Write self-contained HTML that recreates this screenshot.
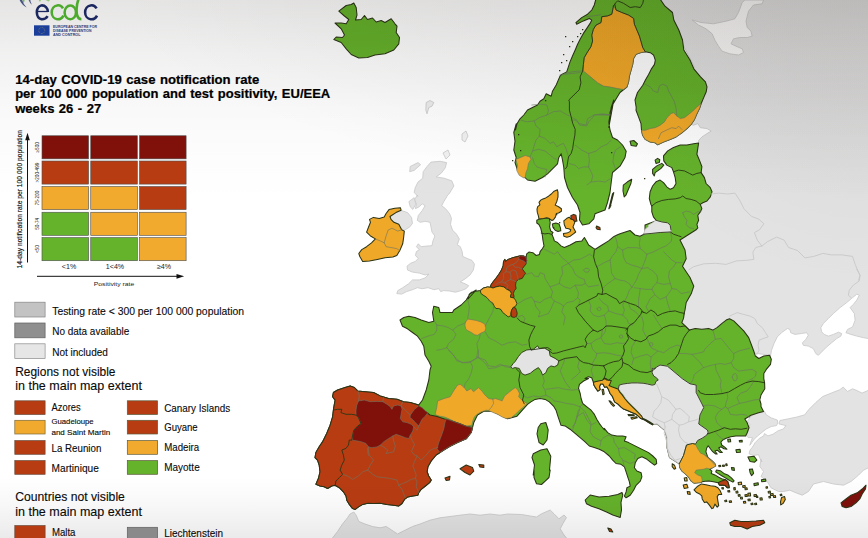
<!DOCTYPE html>
<html><head><meta charset="utf-8"><title>ECDC map</title>
<style>
html,body{margin:0;padding:0;background:#fff;}
body{width:868px;height:538px;overflow:hidden;font-family:"Liberation Sans",sans-serif;}
svg{display:block;}
text{font-family:"Liberation Sans",sans-serif;}
</style></head><body>
<svg width="868" height="538" viewBox="0 0 868 538">
<defs>
<radialGradient id="vtr" cx="868" cy="0" r="290" gradientUnits="userSpaceOnUse">
<stop offset="0" stop-color="#1a0a00" stop-opacity="0.042"/><stop offset="0.3" stop-color="#1a0a00" stop-opacity="0.038"/><stop offset="0.6" stop-color="#1a0a00" stop-opacity="0.022"/><stop offset="0.8" stop-color="#000" stop-opacity="0.008"/><stop offset="1" stop-color="#000" stop-opacity="0"/></radialGradient>
<radialGradient id="vtb" cx="0" cy="0" r="1" gradientUnits="userSpaceOnUse" gradientTransform="translate(868,0) scale(750,200)">
<stop offset="0" stop-color="#140800" stop-opacity="0.05"/><stop offset="0.5" stop-color="#140800" stop-opacity="0.04"/><stop offset="0.8" stop-color="#000" stop-opacity="0.016"/><stop offset="1" stop-color="#000" stop-opacity="0"/></radialGradient>
<linearGradient id="vtop" x1="0" y1="0" x2="0" y2="538" gradientUnits="userSpaceOnUse">
<stop offset="0" stop-color="#100800" stop-opacity="0.105"/><stop offset="0.10" stop-color="#100800" stop-opacity="0.058"/><stop offset="0.20" stop-color="#000" stop-opacity="0.025"/><stop offset="0.30" stop-color="#000" stop-opacity="0.008"/><stop offset="0.38" stop-color="#000" stop-opacity="0"/><stop offset="0.885" stop-color="#000" stop-opacity="0"/><stop offset="0.94" stop-color="#000" stop-opacity="0.03"/><stop offset="1" stop-color="#000" stop-opacity="0.08"/></linearGradient>
</defs>
<rect width="868" height="538" fill="#ffffff"/>
<g>
<polygon points="417.3,195.0 414.4,199.9 416.4,203.8 415.4,208.7 419.3,206.7 422.2,203.8 425.1,205.7 422.2,210.6 418.3,215.5 417.3,220.4 420.3,222.3 425.1,221.3 430.0,222.3 431.0,227.2 432.0,232.1 434.9,236.0 432.9,240.9 432.0,245.7 426.1,246.1 421.2,246.7 418.3,243.8 416.4,246.7 419.3,249.6 416.4,251.6 415.4,255.5 418.3,258.4 415.4,261.4 410.5,263.3 407.0,266.2 407.6,270.1 412.5,272.1 419.3,273.1 425.1,275.0 429.0,274.0 425.1,277.9 419.3,279.9 412.5,279.9 408.5,283.8 402.7,287.7 397.8,290.6 396.8,293.6 401.7,294.1 406.6,291.6 412.5,289.7 417.3,287.7 422.2,288.7 428.1,287.7 433.9,289.7 438.8,288.7 440.7,291.6 443.7,290.6 449.5,291.0 455.4,292.2 461.2,290.6 466.1,288.7 468.7,285.7 465.1,283.8 460.3,281.8 465.1,278.9 470.0,275.0 473.3,270.1 474.5,264.3 472.0,260.4 467.1,258.4 462.8,256.5 462.2,251.6 460.3,246.7 457.3,244.8 459.3,238.9 456.4,234.0 452.5,230.1 450.5,224.3 451.5,218.4 449.5,213.5 445.6,208.7 441.7,205.7 443.7,201.8 446.6,197.0 447.6,195.0 449.2,193.8 453.9,186.0 451.8,180.8 444.0,178.2 436.2,176.9 441.4,173.0 445.3,167.8 446.6,162.6 440.1,161.3 431.0,162.1 427.1,166.5 423.2,171.7 422.7,178.2 418.0,182.1 415.4,187.3 414.1,192.5 418.0,196.4" fill="#e3e3e3" stroke="#c9c8c8" stroke-width="0.8" stroke-linejoin="round"/>
<polygon points="410.2,166.5 418.0,162.6 420.6,164.7 414.1,170.4 409.7,171.7" fill="#e3e3e3" stroke="#c9c8c8" stroke-width="0.8" stroke-linejoin="round"/>
<polygon points="408.9,201.6 414.1,197.7 415.9,204.2 412.8,209.4 410.2,206.8" fill="#e3e3e3" stroke="#c9c8c8" stroke-width="0.8" stroke-linejoin="round"/>
<polygon points="390.0,216.5 395.9,212.6 401.7,210.6 407.6,212.6 411.5,217.4 412.5,223.3 409.5,227.2 404.6,230.1 401.7,229.7 398.8,224.3 393.9,222.3 391.0,219.4" fill="#e3e3e3" stroke="#c9c8c8" stroke-width="0.8" stroke-linejoin="round"/>
<polygon points="655.0,-5.0 880.0,-5.0 880.0,338.0 870.2,338.9 863.5,337.7 856.8,336.1 850.9,334.4 845.9,332.7 847.6,329.4 852.6,326.9 855.1,320.2 854.3,313.5 850.1,307.6 853.4,304.3 856.8,300.1 859.3,295.1 856.8,294.2 852.6,297.6 846.7,302.6 840.1,307.6 833.4,313.5 828.4,318.5 823.3,323.5 820.8,327.7 821.7,331.9 824.2,334.4 828.4,336.1 833.4,334.4 838.4,332.2 841.7,333.5 840.9,336.1 836.7,338.6 831.7,342.7 826.7,346.9 821.7,351.9 818.3,355.3 815.8,353.6 813.3,348.6 808.3,346.1 803.3,345.3 802.4,342.7 805.8,339.4 808.3,335.2 806.6,332.7 801.6,333.5 794.9,334.4 790.7,332.7 789.9,329.4 787.4,328.5 781.5,332.7 777.3,336.9 774.0,343.6 771.5,350.3 770.7,355.3 745.0,352.0 700.0,342.0 672.0,332.0 672.0,240.0 668.0,228.0 698.5,143.8 698.7,140.3 702.0,136.9 707.0,133.6 711.2,131.1 707.0,128.6 700.3,127.7 697.8,123.6 693.6,125.2 691.1,124.4 700.3,105.2 693.6,65.0 670.0,20.0" fill="#e3e3e3" stroke="#c9c8c8" stroke-width="0.8" stroke-linejoin="round"/>
<polygon points="868.0,390.5 862.0,393.1 856.9,390.5 852.6,388.8 847.5,391.4 843.2,387.1 839.8,389.7 831.2,393.1 822.7,396.5 815.8,402.5 809.0,409.3 804.7,414.8 797.0,417.0 788.4,418.8 779.9,420.5 779.0,423.9 785.9,425.6 783.3,429.0 778.2,430.7 773.0,434.2 767.9,435.9 764.5,433.6 763.6,435.9 759.3,438.4 755.1,442.7 752.5,447.0 749.9,450.4 749.1,453.8 753.4,455.5 758.5,454.7 760.2,459.0 761.9,462.0 761.0,459.0 759.8,466.5 763.5,471.5 761.0,476.5 767.2,481.5 771.0,487.8 778.5,491.5 783.5,491.5 789.8,490.2 796.0,492.8 802.2,495.2 808.5,491.5 813.5,484.0 823.5,481.5 833.5,484.0 843.5,485.2 851.0,481.5 858.5,475.2 863.5,470.2 871.0,466.5 880.0,390.0" fill="#e3e3e3" stroke="#c9c8c8" stroke-width="0.8" stroke-linejoin="round"/>
<polygon points="764.5,411.4 766.2,414.8 771.3,417.9 777.3,420.0 777.8,423.0 776.5,425.6 771.3,426.5 766.2,429.0 761.9,432.4 757.6,435.9 754.2,439.3 751.7,442.7 749.9,445.3 750.8,441.9 752.5,437.6 748.2,437.6 746.5,435.9 748.2,429.9 749.9,424.7 747.4,421.3 750.8,416.2 756.8,413.6" fill="#e3e3e3" stroke="#c9c8c8" stroke-width="0.8" stroke-linejoin="round"/>
<polygon points="330.0,544.0 332.5,538.0 337.5,531.5 342.5,524.0 347.5,517.8 350.0,514.0 353.8,512.0 356.2,515.2 358.8,521.5 365.0,524.0 372.5,526.5 380.0,527.8 386.2,526.5 393.8,531.5 397.5,534.0 405.0,530.2 412.5,526.5 420.0,524.0 430.0,520.2 440.0,517.8 450.0,516.5 460.0,515.2 470.0,514.0 480.0,515.2 490.0,514.0 500.0,515.2 507.5,514.0 521.5,514.5 531.5,516.2 536.5,517.0 541.5,513.8 550.2,510.0 554.0,513.8 559.0,518.8 564.0,515.0 566.5,517.5 562.8,523.8 560.2,528.8 564.0,535.0 566.5,538.0 570.0,548.0 300.0,548.0" fill="#e3e3e3" stroke="#c9c8c8" stroke-width="0.8" stroke-linejoin="round"/>
<polygon points="426.2,102.5 430.0,100.5 433.8,102.5 432.0,106.2 428.8,107.5 427.0,113.8 425.8,110.0" fill="#ececec" stroke="#c9c8c8" stroke-width="0.8" stroke-linejoin="round"/>
<polygon points="462.0,134.0 466.0,131.0 468.0,136.0 465.0,142.0 462.0,140.0" fill="#f1f1f1" stroke="#c9c8c8" stroke-width="0.8" stroke-linejoin="round"/>
<polygon points="443.0,153.0 448.0,150.0 450.0,155.0 446.0,159.0" fill="#f1f1f1" stroke="#c9c8c8" stroke-width="0.8" stroke-linejoin="round"/>
<polygon points="692.2,20.0 701.0,22.5 713.5,23.8 726.0,21.2 734.8,18.8 738.5,12.5 742.2,2.5 744.8,0.0 763.5,0.0 762.2,3.8 753.5,5.0 748.5,11.2 746.0,21.2 747.2,27.5 751.0,31.2 752.2,36.2 747.2,37.5 739.8,37.5 733.5,38.8 731.0,43.8 736.0,46.2 742.2,48.8 743.5,52.5 738.5,55.0 729.8,53.8 722.2,51.2 718.5,46.2 714.8,40.0 712.2,33.8 706.0,28.8 698.5,25.0" fill="#fdfcfc" stroke="#c9c8c8" stroke-width="0.8" stroke-linejoin="round"/>
<polygon points="338.8,11.2 346.2,5.5 351.2,4.5 353.8,3.0 356.2,7.5 357.0,15.0 355.5,20.0 361.2,19.5 364.5,15.5 367.5,19.5 372.5,18.0 376.2,22.0 381.2,20.5 385.0,22.5 391.2,18.8 395.0,23.8 397.0,26.2 396.2,32.5 399.5,37.5 398.8,43.8 393.8,50.0 385.0,53.8 375.0,55.0 367.5,57.5 358.8,58.0 351.2,54.5 346.2,48.8 341.2,42.5 333.8,39.5 336.2,37.0 342.5,37.5 344.5,35.0 341.2,28.8 335.0,23.0 341.2,23.0 346.2,23.8 348.8,19.5 343.8,15.5" fill="#65b22b" stroke="#2b3416" stroke-width="1.05" stroke-linejoin="round"/>
<polygon points="596.0,-1.3 594.3,5.0 591.8,10.0 587.6,14.2 581.7,17.6 575.9,22.6 576.7,24.2 583.4,20.9 589.3,18.4 591.8,20.1 590.1,23.4 586.8,28.4 583.4,33.4 580.1,39.3 577.6,44.3 575.1,50.2 572.5,56.0 570.0,61.9 568.4,66.9 566.7,71.9 561.7,74.4 560.0,76.1 556.2,85.0 552.5,91.2 551.2,96.2 546.2,93.8 543.8,98.8 540.0,101.2 537.5,105.0 532.5,107.5 527.5,110.0 523.8,115.0 520.0,118.8 517.0,123.8 515.5,130.0 516.2,123.8 513.8,132.5 515.0,141.2 513.8,150.0 516.2,157.5 515.0,162.5 517.5,170.0 521.2,175.0 525.0,177.5 527.5,180.0 535.0,181.2 542.5,177.5 547.5,173.8 552.5,168.8 557.5,163.8 558.8,157.5 561.2,153.8 562.5,160.0 563.8,167.5 564.5,177.5 567.5,187.5 572.5,197.5 577.5,205.0 580.0,212.5 579.5,220.0 582.5,225.0 588.8,223.8 593.8,218.8 595.0,213.8 605.0,210.0 607.5,202.5 610.0,192.5 611.2,182.5 612.5,172.5 620.0,166.2 625.0,157.5 626.2,151.2 622.5,145.0 617.5,140.0 612.5,137.5 610.0,130.0 608.8,122.5 610.0,115.0 611.2,107.5 613.8,100.0 608.8,127.5 610.0,120.0 610.0,112.5 612.5,105.0 616.2,98.8 620.0,92.5 626.9,87.0 628.6,81.9 629.4,76.1 631.1,70.2 632.7,64.4 633.6,58.5 636.1,54.3 640.3,52.7 645.3,51.8 650.3,52.7 653.6,55.2 655.3,60.2 654.5,64.4 651.1,69.4 648.6,74.4 645.3,80.3 642.8,85.3 637.5,92.5 635.0,100.0 636.2,107.5 636.0,110.2 638.5,116.9 641.0,123.6 641.5,130.3 642.6,135.3 645.2,139.4 650.2,142.0 655.2,142.8 657.7,144.8 663.5,142.0 670.2,139.4 676.1,136.9 681.9,132.8 687.0,128.6 691.1,124.4 694.5,119.4 697.0,113.5 699.5,108.5 701.2,103.5 703.7,97.6 706.2,91.8 707.0,86.8 705.4,81.8 700.3,76.7 693.8,68.8 690.0,60.0 683.8,50.0 682.5,40.0 678.8,30.0 673.8,20.0 672.5,12.5 665.0,6.2 660.0,-1.0" fill="#65b22b" stroke="#2b3416" stroke-width="1.05" stroke-linejoin="round"/>
<polygon points="552.4,224.1 555.8,223.0 559.1,224.1 560.5,228.1 560.8,230.8 558.0,231.4 555.2,230.3 553.0,227.5" fill="#65b22b" stroke="#2b3416" stroke-width="1.05" stroke-linejoin="round"/>
<polygon points="613.8,192.5 610.0,207.5 608.8,208.8 612.5,193.8" fill="#65b22b" stroke="#2b3416" stroke-width="1.05" stroke-linejoin="round"/>
<polygon points="623.3,185.2 627.5,181.8 631.7,179.3 630.9,183.5 628.4,189.3 625.9,195.2 624.2,196.9 623.0,191.0" fill="#65b22b" stroke="#2b3416" stroke-width="1.05" stroke-linejoin="round"/>
<polygon points="630.0,141.2 633.8,140.5 637.5,143.8 636.2,146.2 631.2,145.5" fill="#65b22b" stroke="#2b3416" stroke-width="1.05" stroke-linejoin="round"/>
<polygon points="652.6,169.3 656.8,165.9 661.8,163.4 663.8,165.1 661.0,168.4 657.6,170.9 655.1,172.6 654.3,176.0 652.6,173.4" fill="#65b22b" stroke="#2b3416" stroke-width="1.05" stroke-linejoin="round"/>
<polygon points="655.1,160.1 657.6,158.4 659.8,159.7 659.3,162.6 656.0,163.4" fill="#65b22b" stroke="#2b3416" stroke-width="1.05" stroke-linejoin="round"/>
<polygon points="468.0,299.0 469.1,294.5 471.4,292.3 475.8,291.2 480.3,290.4 483.6,288.0 487.6,286.9 490.4,287.3 490.9,285.1 493.1,281.8 495.9,278.4 498.7,274.5 501.5,270.0 503.2,265.6 503.5,261.6 504.9,259.4 505.4,261.6 508.2,259.4 512.7,257.7 517.2,256.6 520.5,255.8 523.9,256.1 526.1,257.2 526.7,253.8 528.9,252.1 532.8,252.7 536.2,255.5 539.5,254.4 540.1,251.6 542.3,248.8 544.0,246.0 542.9,240.0 542.4,235.9 541.8,232.5 540.7,228.1 539.0,224.7 536.8,223.0 536.8,220.2 539.0,219.1 543.5,218.6 546.8,217.8 549.3,218.6 550.2,222.5 549.6,226.9 550.7,230.8 553.0,232.5 551.9,234.2 553.5,238.1 554.1,240.0 554.3,240.9 557.6,242.5 561.0,245.9 564.3,247.5 570.2,245.0 576.0,241.7 581.9,240.9 584.4,237.5 586.9,241.7 588.6,245.0 593.6,248.4 595.3,249.2 602.0,245.0 608.6,240.9 613.7,236.7 617.0,235.0 620.0,233.8 630.0,230.5 635.0,235.0 640.0,236.2 645.0,233.8 645.0,225.0 655.0,221.2 656.0,220.3 653.4,216.9 651.8,211.9 651.8,206.1 650.9,204.4 649.3,198.5 650.1,191.8 652.6,186.0 656.0,181.8 660.1,180.1 663.5,182.6 666.8,186.8 670.2,189.3 673.5,187.7 676.0,183.5 675.2,177.6 673.5,171.8 671.8,167.6 666.8,165.1 663.8,160.9 663.5,155.9 667.7,150.9 673.5,147.5 680.2,145.0 686.9,145.0 693.6,143.7 698.6,143.0 697.8,148.4 696.9,154.2 699.4,160.1 701.9,166.8 701.1,172.6 704.4,177.6 706.1,183.5 710.3,187.7 712.0,191.8 710.3,196.9 707.0,201.0 702.8,202.7 700.3,204.4 701.9,208.6 700.3,211.9 697.8,215.3 698.6,220.3 696.9,224.4 697.8,227.8 696.1,229.8 680.0,240.0 685.0,250.0 686.2,258.8 682.5,266.2 690.0,277.5 693.8,286.2 691.2,293.8 686.2,302.5 685.0,310.0 683.8,315.0 684.3,313.4 683.5,318.4 681.8,322.6 685.2,325.9 689.4,330.1 695.2,328.4 701.9,329.2 708.6,328.4 712.8,330.1 717.0,327.6 722.0,323.4 726.2,320.1 729.5,318.7 733.7,320.9 738.7,325.9 743.7,330.9 748.7,337.6 751.2,344.3 753.7,351.0 755.4,356.0 758.8,358.5 763.8,356.0 769.6,355.2 771.3,359.3 770.5,364.4 766.3,369.4 763.8,373.6 763.8,378.6 764.6,382.8 764.8,388.8 761.0,395.0 759.8,400.0 761.0,404.0 761.0,406.5 763.5,411.5 758.5,412.8 751.0,415.2 744.8,419.0 747.2,422.8 749.0,427.8 747.2,432.8 745.6,436.0 741.9,436.0 735.9,436.0 730.7,436.7 726.2,438.2 723.2,439.7 720.9,442.0 721.7,445.0 724.7,447.2 726.9,449.2 723.9,448.7 720.9,446.8 718.7,448.0 720.9,451.0 722.4,452.5 720.2,452.5 717.2,450.2 714.9,451.0 717.2,454.0 715.7,454.0 712.7,451.7 710.4,448.7 708.2,445.7 706.7,448.0 705.9,451.7 707.4,456.2 708.2,457.7 711.9,460.7 714.9,463.7 715.7,465.9 713.4,467.4 709.7,469.2 711.9,471.2 711.2,473.4 714.9,474.9 718.7,477.2 721.7,478.7 725.4,479.7 727.7,481.7 728.7,484.7 729.2,487.7 727.2,487.7 725.1,485.4 722.4,485.1 719.4,485.1 718.2,482.7 713.4,481.7 708.9,480.9 705.2,481.2 702.2,481.7 701.5,482.4 698.5,482.7 694.0,483.2 691.0,480.9 688.7,477.2 685.7,474.2 682.0,471.2 679.7,467.4 679.3,463.7 669.5,457.5 667.0,447.5 667.0,437.5 664.5,430.0 657.0,423.8 653.2,424.2 652.6,424.8 648.7,422.5 644.8,420.1 640.9,418.6 638.6,416.4 635.8,414.1 631.9,412.5 628.0,410.8 623.6,409.1 620.8,406.9 618.0,404.1 614.6,401.9 613.5,399.1 612.4,396.3 610.1,393.5 608.5,389.6 606.8,386.8 604.6,387.3 602.9,384.0 600.6,384.0 599.5,386.8 600.1,389.6 597.9,391.2 595.6,387.9 593.9,385.1 593.4,382.3 591.7,377.8 588.4,376.7 585.0,378.4 588.6,378.5 583.6,381.0 579.4,384.3 578.5,388.5 580.2,393.5 581.1,398.5 582.7,403.5 586.9,406.9 591.1,410.2 594.4,414.4 596.9,419.4 599.4,423.6 602.0,427.0 604.5,429.8 604.3,428.4 607.7,432.6 611.8,435.1 616.9,435.9 622.7,435.9 626.1,436.8 624.4,440.9 628.6,442.6 633.6,445.1 638.6,447.6 643.6,450.1 648.6,452.6 652.8,456.0 656.2,459.3 656.7,463.5 654.5,465.2 651.1,462.7 647.0,459.3 641.9,456.8 637.8,458.5 635.3,462.7 634.4,467.7 636.9,471.0 641.1,472.7 641.9,476.9 640.3,481.1 636.1,485.3 633.6,490.3 630.2,495.3 626.1,497.8 624.4,496.1 626.1,491.9 626.9,487.8 630.2,486.1 629.4,481.9 627.7,476.9 626.1,471.9 624.4,466.9 621.0,464.3 616.0,463.5 612.7,460.2 609.3,456.0 604.3,451.8 599.3,449.3 594.3,447.6 589.3,446.0 585.1,441.8 580.1,437.6 575.1,433.4 570.0,429.2 565.0,425.9 561.0,425.3 559.3,420.3 557.6,415.3 556.0,410.2 553.5,406.1 549.3,401.9 545.1,399.4 540.1,398.5 535.1,399.4 530.9,401.9 527.5,404.4 517.0,416.2 507.5,418.8 500.0,415.0 492.5,411.2 483.8,411.2 477.5,415.0 473.8,422.5 472.5,427.5 471.2,432.5 466.2,438.8 457.5,442.5 450.0,446.2 443.8,450.0 440.0,452.5 436.2,455.0 431.2,460.9 427.9,466.8 427.1,471.8 428.7,476.0 431.2,480.1 429.6,482.6 425.4,486.0 421.2,489.3 418.7,492.7 417.9,495.2 412.8,496.0 407.8,496.9 404.5,499.4 402.0,503.5 398.6,506.1 393.6,505.2 386.9,504.4 380.2,503.2 373.5,503.5 367.7,503.2 362.7,504.4 358.5,506.9 355.2,509.4 352.6,508.6 349.3,504.4 346.8,500.2 346.0,496.0 343.4,491.8 339.3,487.7 335.1,485.2 331.7,486.0 327.6,488.5 324.2,486.8 320.0,486.0 315.9,484.3 318.4,478.5 320.0,471.8 319.2,465.1 317.5,460.1 315.0,457.6 315.9,452.5 319.2,446.7 322.5,441.9 326.7,433.5 330.1,425.2 332.6,416.8 333.4,410.1 334.2,405.1 335.1,400.1 332.6,396.7 333.4,392.5 337.6,390.0 345.1,387.5 350.1,385.9 354.3,387.5 357.7,390.9 365.2,391.7 373.5,392.5 380.2,395.9 388.6,398.4 397.0,399.2 403.6,401.7 410.3,402.6 418.7,405.1 422.5,400.0 426.2,390.0 428.8,380.0 430.0,370.0 431.2,366.2 428.8,361.2 425.0,355.0 423.8,346.2 421.2,341.2 417.5,336.2 412.5,332.5 407.5,328.8 402.5,326.2 400.0,320.0 403.8,317.5 408.8,316.2 415.0,317.5 421.2,320.0 428.8,322.5 433.8,321.2 432.5,312.5 433.8,306.2 438.8,307.5 440.0,312.5 446.2,312.5 452.5,312.5 453.8,310.0 461.2,305.0 466.2,300.0 470.0,293.8 476.2,290.0" fill="#65b22b" stroke="#2b3416" stroke-width="1.05" stroke-linejoin="round"/>
<polygon points="540.8,423.8 545.8,422.5 548.2,430.0 547.0,440.0 543.2,445.0 539.0,442.5 537.0,433.8 538.2,427.5" fill="#65b22b" stroke="#2b3416" stroke-width="1.05" stroke-linejoin="round"/>
<polygon points="533.2,453.8 540.8,450.0 547.0,448.8 550.8,456.2 549.5,470.0 550.2,470.0 549.0,477.5 545.2,481.2 541.5,484.5 536.5,483.8 534.0,477.5 534.0,470.0 533.2,475.0 534.5,465.0 532.0,457.5" fill="#65b22b" stroke="#2b3416" stroke-width="1.05" stroke-linejoin="round"/>
<polygon points="585.2,500.0 590.2,495.0 599.0,497.0 609.0,496.2 617.8,494.5 622.0,492.5 622.8,495.0 621.0,502.5 621.5,510.0 620.2,517.5 612.8,515.0 606.5,512.0 599.0,508.8 591.5,506.2 586.5,503.8" fill="#65b22b" stroke="#2b3416" stroke-width="1.05" stroke-linejoin="round"/>
<polygon points="716.4,470.1 720.2,470.7 723.9,473.4 727.7,474.9 731.4,477.9 734.1,480.9 732.9,482.1 729.2,480.2 725.4,477.9 721.7,475.7 717.9,473.4 715.7,471.9" fill="#65b22b" stroke="#2b3416" stroke-width="1.05" stroke-linejoin="round"/>
<polygon points="747.9,457.0 753.9,456.2 756.9,460.0 754.6,462.2 750.1,461.5" fill="#65b22b" stroke="#2b3416" stroke-width="1.05" stroke-linejoin="round"/>
<polygon points="749.4,469.2 752.4,468.9 753.6,473.4 751.6,475.7 750.1,472.7" fill="#65b22b" stroke="#2b3416" stroke-width="1.05" stroke-linejoin="round"/>
<polygon points="761.4,479.7 765.6,479.1 765.9,481.2 761.7,481.8" fill="#65b22b" stroke="#2b3416" stroke-width="1.05" stroke-linejoin="round"/>
<polygon points="753.9,483.6 758.1,482.7 758.4,484.8 754.2,485.7" fill="#65b22b" stroke="#2b3416" stroke-width="1.05" stroke-linejoin="round"/>
<polygon points="727.7,439.3 730.4,439.0 730.7,441.7 728.1,442.0" fill="#65b22b" stroke="#2b3416" stroke-width="1.05" stroke-linejoin="round"/>
<polygon points="739.2,440.5 742.2,440.2 742.2,442.0 739.5,442.0" fill="#65b22b" stroke="#2b3416" stroke-width="1.05" stroke-linejoin="round"/>
<polygon points="735.9,449.8 740.1,449.2 740.4,452.2 736.6,452.5" fill="#65b22b" stroke="#2b3416" stroke-width="1.05" stroke-linejoin="round"/>
<polygon points="731.4,467.4 734.1,467.7 734.4,470.4 732.0,470.1" fill="#65b22b" stroke="#2b3416" stroke-width="1.05" stroke-linejoin="round"/>
<polygon points="510.8,366.8 513.3,363.4 515.0,361.7 518.3,356.7 521.7,352.5 526.7,350.0 533.4,349.2 537.6,345.9 539.2,348.4 544.3,348.0 549.3,350.9 550.1,355.9 555.1,358.4 558.8,360.9 557.6,365.1 554.3,366.8 551.0,365.9 547.6,368.4 545.9,372.6 542.6,375.1 540.9,370.9 538.4,367.6 534.2,370.1 530.1,373.4 525.0,375.1 521.7,373.4 519.2,368.4 515.0,367.6 512.5,368.4" fill="#e3e3e3" stroke="#2a3515" stroke-width="0.9" stroke-linejoin="round"/>
<polygon points="656.0,220.3 661.8,221.9 667.7,222.8 670.2,225.3 671.0,229.8 670.3,232.0 660.2,232.5 651.9,233.4 643.5,234.2 645.2,229.2 648.5,226.7 648.4,225.3 652.6,222.8" fill="#e3e3e3" stroke="#c9c8c8" stroke-width="0.8" stroke-linejoin="round"/>
<polygon points="619.1,385.1 623.0,384.0 627.5,383.4 631.9,382.9 637.5,382.9 643.1,383.2 647.6,384.0 652.1,385.1 654.8,384.5 656.0,381.2 658.2,380.1 656.5,377.8 653.7,376.1 652.1,372.8 652.3,368.3 653.8,368.8 660.0,365.0 667.5,366.2 675.0,372.5 682.5,378.8 690.0,383.8 696.2,385.0 696.2,392.5 700.0,400.0 703.8,407.5 700.0,415.0 698.8,424.0 707.4,430.0 708.2,432.2 706.7,435.2 702.2,438.2 697.7,440.5 695.5,444.2 692.5,443.5 686.5,445.0 685.0,450.2 683.5,455.5 681.2,460.0 679.3,463.7 669.5,457.5 667.0,447.5 667.0,437.5 664.5,430.0 657.0,423.8 653.2,424.2 649.8,422.0 645.9,419.7 642.6,418.1 641.4,415.8 639.8,413.0 636.4,409.7 633.1,406.3 629.1,402.4 625.8,398.5 623.6,395.1 620.8,391.8 618.5,388.4" fill="#e3e3e3" stroke="#c9c8c8" stroke-width="0.8" stroke-linejoin="round"/>
<polygon points="613.5,5.9 616.0,10.0 621.9,12.5 628.6,15.1 633.6,18.4 634.4,24.2 636.9,30.1 639.4,36.0 641.1,41.8 642.8,47.7 645.3,51.8 640.3,52.7 636.1,54.3 633.6,58.5 632.7,64.4 631.1,70.2 629.4,76.1 628.6,81.9 626.9,87.0 623.5,89.5 617.7,88.6 610.2,87.0 603.5,86.1 597.6,82.8 592.6,78.6 587.6,74.4 583.4,71.1 583.4,64.4 584.2,57.7 587.6,51.8 590.9,46.8 592.6,41.0 591.8,35.1 593.4,29.3 596.0,25.1 601.0,22.6 601.8,16.7 607.7,15.9 611.8,14.2 612.7,10.0" fill="#f0a828" stroke="#6c7564" stroke-width="0.6" stroke-linejoin="round"/>
<polygon points="641.5,130.3 645.2,130.3 650.2,128.6 655.2,127.7 660.2,125.2 664.4,121.9 666.9,117.7 671.1,113.5 673.6,112.7 676.9,116.0 680.3,118.5 684.4,117.7 688.6,114.4 692.8,111.0 697.0,106.8 701.2,103.5 699.5,108.5 697.0,113.5 694.5,119.4 691.1,124.4 687.0,128.6 681.9,132.8 676.1,136.9 670.2,139.4 663.5,142.0 657.7,144.8 655.2,142.8 650.2,142.0 645.2,139.4 642.6,135.3" fill="#f0a828" stroke="#6c7564" stroke-width="0.6" stroke-linejoin="round"/>
<polygon points="515.9,159.4 520.1,157.7 525.1,155.5 530.1,156.9 530.9,159.4 528.4,163.6 527.6,168.6 525.9,172.8 525.1,177.8 523.4,177.8 519.2,175.3 516.7,170.3 517.5,165.2" fill="#f0a828" stroke="#6c7564" stroke-width="0.6" stroke-linejoin="round"/>
<polygon points="557.4,189.8 558.0,192.3 558.0,196.8 556.9,201.2 555.2,205.1 558.6,206.8 561.4,208.8 561.4,211.3 558.6,213.0 556.3,213.5 555.5,216.9 553.5,219.7 551.9,220.5 549.3,218.6 546.8,217.8 543.5,218.6 539.0,219.1 538.4,215.8 537.3,212.4 537.0,209.1 537.7,206.6 539.9,204.8 539.0,202.4 540.7,200.1 542.9,199.0 545.7,197.9 548.5,196.2 551.3,194.0 554.1,191.2" fill="#f0a828" stroke="#2b3416" stroke-width="1.05" stroke-linejoin="round"/>
<polygon points="563.8,220.8 566.9,218.3 569.2,217.2 570.8,218.9 573.1,219.5 575.0,221.6 574.1,224.1 573.0,226.9 574.5,229.7 575.7,232.0 573.4,233.9 570.3,236.2 566.9,237.3 563.9,236.2 563.4,233.6 566.9,233.1 570.0,231.6 570.8,229.7 568.7,228.8 565.9,228.3 564.3,224.7" fill="#f0a828" stroke="#2b3416" stroke-width="1.05" stroke-linejoin="round"/>
<polygon points="386.1,213.5 389.0,209.6 394.9,208.3 400.4,207.7 401.1,210.2 395.9,212.6 390.0,216.5 391.0,219.4 393.9,222.3 398.8,224.3 401.7,229.7 404.3,231.1 403.7,237.0 402.7,243.8 399.8,250.6 396.8,255.5 392.9,257.1 385.1,257.8 377.3,259.4 369.5,261.0 362.7,261.4 359.8,256.5 358.8,253.5 361.7,249.6 366.6,246.7 371.5,242.8 375.4,238.9 370.5,236.0 366.6,232.1 368.5,227.2 370.5,222.3 369.5,219.4 373.4,217.4 379.3,218.4 384.2,216.9" fill="#f0a828" stroke="#2b3416" stroke-width="1.05" stroke-linejoin="round"/>
<polygon points="490.9,285.1 493.1,281.8 495.9,278.4 498.7,274.5 501.5,270.0 503.2,265.6 503.5,261.6 504.9,259.4 505.4,261.6 508.2,259.4 512.7,257.7 517.2,256.6 520.5,255.8 523.9,256.1 526.1,257.2 526.7,260.5 526.1,263.9 523.9,266.7 522.2,268.9 523.9,271.1 525.6,273.4 523.9,275.6 522.2,278.4 518.3,279.5 516.1,281.8 515.5,285.1 516.1,288.5 514.4,290.7 513.3,293.5 514.0,296.2 513.8,297.9 510.5,297.3 510.5,295.7 511.0,292.9 509.9,290.7 506.6,289.0 503.8,286.8 499.3,286.2 495.9,286.8 493.1,287.9 490.4,286.8" fill="#b83c12" stroke="#2a3515" stroke-width="0.9" stroke-linejoin="round"/>
<polygon points="480.3,290.6 483.6,288.0 487.6,286.9 490.4,287.3 493.1,288.0 495.9,286.9 499.9,286.1 503.8,286.9 506.6,289.2 509.9,290.8 511.4,293.2 510.5,295.6 510.5,297.3 513.8,297.9 515.5,300.1 516.9,303.5 515.5,306.3 513.3,307.4 511.6,310.2 511.0,313.0 510.7,315.8 508.2,316.9 505.4,314.6 502.6,312.4 501.0,309.6 498.7,308.5 495.9,308.5 494.3,306.3 492.6,302.9 489.8,301.2 487.6,298.4 485.9,296.8 483.1,295.1 480.9,293.4" fill="#f0a828" stroke="#2a3515" stroke-width="0.9" stroke-linejoin="round"/>
<polygon points="513.3,307.4 515.5,307.9 516.6,310.7 517.2,313.5 516.6,316.3 514.4,317.4 511.6,316.9 511.0,313.0 511.6,310.2" fill="#b83c12" stroke="#2a3515" stroke-width="0.9" stroke-linejoin="round"/>
<polygon points="465.5,321.6 468.0,319.1 471.9,319.7 476.4,320.5 480.9,321.9 484.8,324.1 485.9,328.1 484.8,331.4 480.9,333.1 477.5,335.3 474.7,334.8 471.4,332.5 468.0,330.8 465.8,329.2 464.9,325.3" fill="#f0a828" stroke="#6c7564" stroke-width="0.6" stroke-linejoin="round"/>
<polygon points="435.1,414.4 436.7,407.7 437.6,401.0 444.3,398.5 450.1,396.8 453.5,391.0 457.6,385.1 460.2,384.3 464.3,387.6 466.8,391.0 471.0,388.5 473.5,391.8 478.5,387.6 481.9,391.0 485.2,395.2 488.6,398.5 492.8,399.3 495.3,398.5 500.3,400.2 502.0,401.0 504.5,396.0 508.6,392.6 512.8,389.3 515.3,387.6 517.8,390.1 519.5,393.5 518.7,396.8 522.0,400.2 527.0,403.5 523.7,406.9 519.5,410.2 515.3,414.4 511.2,417.7 506.1,418.6 502.0,416.9 497.8,414.4 493.6,412.7 488.6,410.5 486.1,410.2 481.1,411.9 476.9,414.4 474.4,416.9 472.7,421.1 471.9,425.3 465.2,426.1 459.3,423.6 453.5,421.1 448.4,418.6 444.3,416.9 439.2,416.1" fill="#f0a828" stroke="#6c7564" stroke-width="0.6" stroke-linejoin="round"/>
<polygon points="418.8,406.2 425.0,411.2 430.0,415.0 436.2,416.2 443.8,418.8 452.5,421.2 460.0,423.8 466.2,426.2 472.5,427.5 471.2,432.5 466.2,438.8 457.5,442.5 450.0,446.2 443.8,450.0 440.0,452.5 436.2,455.0 431.2,460.9 427.9,466.8 427.1,471.8 428.7,476.0 431.2,480.1 429.6,482.6 425.4,486.0 421.2,489.3 418.7,492.7 417.9,495.2 412.8,496.0 407.8,496.9 404.5,499.4 402.0,503.5 398.6,506.1 393.6,505.2 386.9,504.4 380.2,503.2 373.5,503.5 367.7,503.2 362.7,504.4 358.5,506.9 355.2,509.4 352.6,508.6 349.3,504.4 346.8,500.2 346.0,496.0 343.4,491.8 339.3,487.7 335.1,485.2 331.7,486.0 327.6,488.5 324.2,486.8 320.0,486.0 315.9,484.3 318.4,478.5 320.0,471.8 319.2,465.1 317.5,460.1 315.0,457.6 315.9,452.5 319.2,446.7 322.5,441.9 326.7,433.5 330.1,425.2 332.6,416.8 333.4,410.1 334.2,405.1 335.1,400.1 332.6,396.7 333.4,392.5 337.6,390.0 345.1,387.5 350.1,385.9 354.3,387.5 357.7,390.9 365.2,391.7 373.5,392.5 380.2,395.9 388.6,398.4 397.0,399.2 403.6,401.7 410.3,402.6 418.7,405.1" fill="#b83c12" stroke="#2b3416" stroke-width="1.05" stroke-linejoin="round"/>
<polygon points="460.0,468.8 466.2,465.0 472.5,467.5 473.8,471.2 470.0,475.0 465.0,472.5" fill="#b83c12" stroke="#2b3416" stroke-width="1.05" stroke-linejoin="round"/>
<polygon points="478.8,464.5 483.8,465.0 483.8,467.5 480.0,467.0" fill="#b83c12" stroke="#2b3416" stroke-width="1.05" stroke-linejoin="round"/>
<polygon points="445.0,478.0 450.0,476.2 449.5,480.0 446.2,480.5" fill="#b83c12" stroke="#2b3416" stroke-width="1.05" stroke-linejoin="round"/>
<polygon points="593.4,382.3 597.3,381.2 602.3,380.3 604.6,378.0 606.8,380.1 611.3,380.6 610.1,383.4 609.0,385.6 611.8,386.8 615.2,387.9 618.0,389.0 619.6,391.8 622.4,395.1 624.7,398.5 628.0,402.4 631.9,406.3 635.3,409.7 638.6,413.0 641.4,415.8 642.6,418.1 645.9,419.7 649.8,422.0 653.2,424.2 652.6,424.8 648.7,422.5 644.8,420.1 640.9,418.6 638.6,416.4 635.8,414.1 631.9,412.5 628.0,410.8 623.6,409.1 620.8,406.9 618.0,404.1 614.6,401.9 613.5,399.1 612.4,396.3 610.1,393.5 608.5,389.6 606.8,386.8 604.6,387.3 602.9,384.0 600.6,384.0 599.5,386.8 600.1,389.6 597.9,391.2 595.6,387.9 593.9,385.1" fill="#f0a828" stroke="#2b3416" stroke-width="1.05" stroke-linejoin="round"/>
<polygon points="602.0,389.6 603.4,389.2 604.2,394.0 602.9,394.8" fill="#f0a828" stroke="#2b3416" stroke-width="1.05" stroke-linejoin="round"/>
<polygon points="609.0,400.7 610.7,401.3 614.6,405.5 613.5,406.3 611.3,404.1" fill="#f0a828" stroke="#2b3416" stroke-width="1.05" stroke-linejoin="round"/>
<polygon points="630.8,417.8 636.4,416.7 637.3,417.8 631.9,419.2" fill="#f0a828" stroke="#2b3416" stroke-width="1.05" stroke-linejoin="round"/>
<polygon points="628.0,414.5 634.2,414.7 634.2,415.6 628.6,415.6" fill="#f0a828" stroke="#2b3416" stroke-width="1.05" stroke-linejoin="round"/>
<polygon points="686.5,445.0 692.5,443.5 695.5,444.2 697.7,448.7 700.7,453.2 704.4,454.7 708.2,457.7 711.9,460.7 714.9,463.7 715.7,465.9 713.4,467.4 709.7,468.9 706.7,468.2 703.7,469.2 700.0,469.7 696.2,470.1 694.7,472.7 697.7,474.9 701.5,476.4 702.2,480.2 701.5,482.4 698.5,482.7 694.0,483.2 691.0,480.9 688.7,477.2 685.7,474.2 682.0,471.2 679.7,467.4 679.3,463.7 681.2,460.0 683.5,455.5 685.0,450.2" fill="#f0a828" stroke="#6c7564" stroke-width="0.6" stroke-linejoin="round"/>
<polygon points="694.0,489.9 697.7,486.2 701.5,483.9 705.9,484.7 710.4,485.7 714.9,486.2 717.9,487.7 720.2,490.7 721.7,494.4 718.7,494.4 717.2,496.6 717.9,501.1 718.7,505.6 717.2,507.1 714.9,504.1 713.4,507.9 711.9,508.6 709.2,504.9 706.7,501.9 704.4,502.6 702.2,498.9 701.8,495.9 699.2,493.7 696.2,492.2" fill="#f0a828" stroke="#2b3416" stroke-width="1.05" stroke-linejoin="round"/>
<polygon points="729.8,522.8 734.8,520.2 741.0,521.5 748.5,521.5 756.0,521.0 763.5,520.2 764.8,522.8 759.8,525.2 752.2,526.5 747.2,529.0 741.0,526.5 734.8,526.5 730.5,525.2" fill="#b83c12" stroke="#2b3416" stroke-width="1.05" stroke-linejoin="round"/>
<polygon points="841.0,502.8 846.0,499.0 851.0,495.2 857.2,492.8 862.2,489.0 866.0,485.2 865.5,489.0 862.2,494.0 859.8,499.0 856.0,502.8 851.0,506.5 846.0,507.8 842.2,506.5" fill="#7f100a" stroke="#2b3416" stroke-width="1.05" stroke-linejoin="round"/>
<polygon points="781.6,497.4 784.6,496.6 785.3,499.6 783.1,503.4 780.8,504.9 780.5,501.9" fill="#f0a828" stroke="#2b3416" stroke-width="1.05" stroke-linejoin="round"/>
<polygon points="672.2,463.7 674.5,465.2 675.7,468.6 674.2,469.2 672.2,466.7" fill="#f0a828" stroke="#2b3416" stroke-width="1.05" stroke-linejoin="round"/>
<polygon points="684.2,477.9 686.8,477.6 687.2,480.9 684.7,480.9" fill="#f0a828" stroke="#2b3416" stroke-width="1.05" stroke-linejoin="round"/>
<polygon points="683.2,485.1 686.8,484.2 688.0,487.7 684.2,488.4" fill="#f0a828" stroke="#2b3416" stroke-width="1.05" stroke-linejoin="round"/>
<polygon points="687.2,491.4 689.8,491.7 690.2,494.4 687.7,494.1" fill="#f0a828" stroke="#2b3416" stroke-width="1.05" stroke-linejoin="round"/>
<polygon points="738.1,482.4 741.4,482.1 741.7,484.5 738.4,484.7" fill="#f0a828" stroke="#2b3416" stroke-width="1.05" stroke-linejoin="round"/>
<polygon points="742.6,485.7 745.0,485.4 745.3,487.2 742.9,487.4" fill="#f0a828" stroke="#2b3416" stroke-width="1.05" stroke-linejoin="round"/>
<polygon points="744.9,488.1 747.0,487.8 747.3,489.6 745.2,489.8" fill="#f0a828" stroke="#2b3416" stroke-width="1.05" stroke-linejoin="round"/>
<polygon points="733.7,487.7 735.1,487.4 735.4,489.8 734.0,489.9" fill="#f0a828" stroke="#2b3416" stroke-width="1.05" stroke-linejoin="round"/>
<polygon points="735.9,491.4 737.7,491.1 738.0,492.9 736.2,493.1" fill="#f0a828" stroke="#2b3416" stroke-width="1.05" stroke-linejoin="round"/>
<polygon points="738.1,494.7 739.9,494.4 740.2,496.2 738.4,496.3" fill="#f0a828" stroke="#2b3416" stroke-width="1.05" stroke-linejoin="round"/>
<polygon points="740.4,497.4 742.2,497.1 742.5,498.9 740.7,499.0" fill="#f0a828" stroke="#2b3416" stroke-width="1.05" stroke-linejoin="round"/>
<polygon points="744.9,494.7 747.0,494.4 747.3,496.5 745.2,496.6" fill="#f0a828" stroke="#2b3416" stroke-width="1.05" stroke-linejoin="round"/>
<polygon points="747.9,493.2 750.3,492.9 750.6,495.9 748.2,496.0" fill="#f0a828" stroke="#2b3416" stroke-width="1.05" stroke-linejoin="round"/>
<polygon points="753.9,494.7 756.3,494.4 756.6,496.5 754.2,496.6" fill="#f0a828" stroke="#2b3416" stroke-width="1.05" stroke-linejoin="round"/>
<polygon points="756.1,496.2 757.6,495.9 757.9,497.4 756.4,497.5" fill="#f0a828" stroke="#2b3416" stroke-width="1.05" stroke-linejoin="round"/>
<polygon points="759.9,498.1 762.0,497.8 762.3,499.9 760.2,500.1" fill="#f0a828" stroke="#2b3416" stroke-width="1.05" stroke-linejoin="round"/>
<polygon points="747.9,499.2 750.0,498.9 750.3,500.7 748.2,500.8" fill="#f0a828" stroke="#2b3416" stroke-width="1.05" stroke-linejoin="round"/>
<polygon points="743.4,501.6 745.5,501.3 745.8,503.1 743.7,503.2" fill="#f0a828" stroke="#2b3416" stroke-width="1.05" stroke-linejoin="round"/>
<polygon points="750.9,503.4 752.7,503.1 753.0,504.6 751.2,504.7" fill="#f0a828" stroke="#2b3416" stroke-width="1.05" stroke-linejoin="round"/>
<polygon points="754.6,503.4 756.4,503.1 756.7,504.6 754.9,504.7" fill="#f0a828" stroke="#2b3416" stroke-width="1.05" stroke-linejoin="round"/>
<polygon points="729.2,501.1 731.3,500.8 731.6,502.3 729.5,502.5" fill="#f0a828" stroke="#2b3416" stroke-width="1.05" stroke-linejoin="round"/>
<polygon points="724.7,500.4 726.5,500.1 726.8,501.6 725.0,501.7" fill="#f0a828" stroke="#2b3416" stroke-width="1.05" stroke-linejoin="round"/>
<polygon points="727.7,490.7 729.5,490.4 729.8,491.9 728.0,492.0" fill="#f0a828" stroke="#2b3416" stroke-width="1.05" stroke-linejoin="round"/>
<polygon points="721.7,487.7 723.2,487.4 723.5,488.9 722.0,489.0" fill="#f0a828" stroke="#2b3416" stroke-width="1.05" stroke-linejoin="round"/>
<polygon points="768.1,491.4 770.2,491.1 770.5,492.9 768.4,493.1" fill="#f0a828" stroke="#2b3416" stroke-width="1.05" stroke-linejoin="round"/>
<polygon points="770.3,493.7 773.0,493.4 773.3,495.4 770.6,495.6" fill="#f0a828" stroke="#2b3416" stroke-width="1.05" stroke-linejoin="round"/>
<polygon points="773.3,495.9 775.4,495.6 775.7,497.4 773.6,497.5" fill="#f0a828" stroke="#2b3416" stroke-width="1.05" stroke-linejoin="round"/>
<polygon points="765.9,486.9 767.3,486.6 767.6,488.1 766.2,488.3" fill="#f0a828" stroke="#2b3416" stroke-width="1.05" stroke-linejoin="round"/>
<polygon points="768.8,496.6 770.3,496.3 770.6,497.8 769.1,498.0" fill="#f0a828" stroke="#2b3416" stroke-width="1.05" stroke-linejoin="round"/>
<polygon points="718.7,465.6 720.5,465.3 720.8,466.5 719.0,466.7" fill="#f0a828" stroke="#2b3416" stroke-width="1.05" stroke-linejoin="round"/>
<polygon points="722.4,465.3 724.2,465.0 724.5,466.2 722.7,466.4" fill="#f0a828" stroke="#2b3416" stroke-width="1.05" stroke-linejoin="round"/>
<polygon points="725.7,464.1 726.9,463.8 727.2,465.6 726.0,465.8" fill="#f0a828" stroke="#2b3416" stroke-width="1.05" stroke-linejoin="round"/>
<polygon points="780.1,494.4 781.6,494.1 781.9,495.6 780.4,495.7" fill="#f0a828" stroke="#2b3416" stroke-width="1.05" stroke-linejoin="round"/>
<polygon points="607.8,528.0 611.0,529.0 612.8,532.0 609.5,531.5" fill="#b83c12" stroke="#2b3416" stroke-width="1.05" stroke-linejoin="round"/>
<polygon points="570.8,215.8 573.6,214.4 575.9,215.2 576.4,218.6 577.0,221.1 574.8,221.6 573.1,219.7 571.2,219.1" fill="#b83c12" stroke="#2b3416" stroke-width="1.05" stroke-linejoin="round"/>
<polygon points="596.6,226.0 599.9,227.5 600.2,229.7 597.1,229.2 596.0,227.8" fill="#b83c12" stroke="#2b3416" stroke-width="1.05" stroke-linejoin="round"/>
<polygon points="518.8,257.2 520.5,255.8 523.9,256.1 526.1,257.2 526.7,260.5 526.1,263.3 523.9,261.1 521.1,260.0 519.2,259.2" fill="#7f100a" stroke="#6c7564" stroke-width="0.6" stroke-linejoin="round"/>
<polygon points="358.5,400.9 364.3,400.1 370.2,401.7 376.9,401.4 382.7,401.7 386.9,404.2 390.3,406.8 391.9,409.3 393.6,405.9 397.8,405.1 401.1,405.9 402.0,409.3 401.1,414.3 400.3,418.5 402.8,421.8 407.0,422.6 411.2,424.3 413.7,426.8 412.8,431.0 410.3,435.2 408.7,438.5 405.3,437.7 401.1,436.0 396.1,434.3 392.8,436.0 388.6,438.5 383.6,441.9 380.2,445.2 376.9,446.9 371.9,447.7 368.5,446.9 366.0,443.5 361.8,441.9 357.7,441.0 352.6,440.2 352.6,435.2 353.8,430.2 356.8,426.8 361.0,423.5 360.2,421.8 358.5,417.6 356.0,415.1 356.0,410.1 356.8,405.1" fill="#7f100a" stroke="#6c7564" stroke-width="0.6" stroke-linejoin="round"/>
<polygon points="410.3,415.1 414.5,409.3 418.7,405.9 422.0,407.6 425.4,410.9 427.9,412.6 425.4,416.0 422.0,419.3 420.4,422.6 418.7,426.0 415.4,422.6 412.3,419.3 410.0,417.6" fill="#7f100a" stroke="#6c7564" stroke-width="0.6" stroke-linejoin="round"/>
<polygon points="446.2,418.8 452.5,421.2 460.0,423.8 466.2,426.2 472.5,427.5 471.2,432.5 466.2,438.8 457.5,442.5 450.0,446.2 443.8,450.0 440.0,452.5 437.0,448.8 438.8,442.5 441.2,436.2 443.8,428.8 445.0,422.5" fill="#7f100a" stroke="#6c7564" stroke-width="0.6" stroke-linejoin="round"/>
<polygon points="718.2,482.7 721.7,480.9 725.4,479.7 727.7,481.7 728.7,484.7 729.2,487.7 727.2,487.7 725.1,485.4 722.4,485.1 719.4,485.1" fill="#b83c12" stroke="#2b3416" stroke-width="1.05" stroke-linejoin="round"/>
<polygon points="565.0,36.0 566.3,36.0 566.3,37.2 565.0,37.2" fill="#2b3416"  stroke-linejoin="round"/>
<polygon points="569.0,46.0 570.3,46.0 570.3,47.2 569.0,47.2" fill="#2b3416"  stroke-linejoin="round"/>
<polygon points="572.0,41.0 573.3,41.0 573.3,42.2 572.0,42.2" fill="#2b3416"  stroke-linejoin="round"/>
<polygon points="577.0,36.0 578.3,36.0 578.3,37.2 577.0,37.2" fill="#2b3416"  stroke-linejoin="round"/>
<polygon points="580.0,33.0 581.3,33.0 581.3,34.2 580.0,34.2" fill="#2b3416"  stroke-linejoin="round"/>
<polygon points="582.0,29.0 583.3,29.0 583.3,30.2 582.0,30.2" fill="#2b3416"  stroke-linejoin="round"/>
<polygon points="563.0,54.0 564.3,54.0 564.3,55.2 563.0,55.2" fill="#2b3416"  stroke-linejoin="round"/>
<polygon points="561.0,62.0 562.3,62.0 562.3,63.2 561.0,63.2" fill="#2b3416"  stroke-linejoin="round"/>
<polygon points="566.0,60.0 567.3,60.0 567.3,61.2 566.0,61.2" fill="#2b3416"  stroke-linejoin="round"/>
<polygon points="559.0,70.0 560.3,70.0 560.3,71.2 559.0,71.2" fill="#2b3416"  stroke-linejoin="round"/>
<polygon points="545.0,100.0 546.3,100.0 546.3,101.2 545.0,101.2" fill="#2b3416"  stroke-linejoin="round"/>
<polygon points="518.0,134.0 519.3,134.0 519.3,135.2 518.0,135.2" fill="#2b3416"  stroke-linejoin="round"/>
<polygon points="520.0,150.0 521.3,150.0 521.3,151.2 520.0,151.2" fill="#2b3416"  stroke-linejoin="round"/>
<polygon points="512.0,160.0 513.3,160.0 513.3,161.2 512.0,161.2" fill="#2b3416"  stroke-linejoin="round"/>
<polygon points="556.0,214.0 557.3,214.0 557.3,215.2 556.0,215.2" fill="#2b3416"  stroke-linejoin="round"/>
<polygon points="559.0,222.0 560.3,222.0 560.3,223.2 559.0,223.2" fill="#2b3416"  stroke-linejoin="round"/>
<polygon points="553.0,227.0 554.3,227.0 554.3,228.2 553.0,228.2" fill="#2b3416"  stroke-linejoin="round"/>
<polygon points="610.0,205.0 611.3,205.0 611.3,206.2 610.0,206.2" fill="#2b3416"  stroke-linejoin="round"/>
<polygon points="644.0,178.0 645.3,178.0 645.3,179.2 644.0,179.2" fill="#2b3416"  stroke-linejoin="round"/>
<polygon points="611.0,152.0 612.3,152.0 612.3,153.2 611.0,153.2" fill="#2b3416"  stroke-linejoin="round"/>
<polyline points="729.7,316.0 737.2,312.6 743.1,314.3 749.8,316.0 754.8,318.5 757.3,323.5 762.3,327.7 765.6,332.7 768.2,336.9 763.1,338.6 759.0,340.2 758.1,345.3 759.0,350.3 756.4,355.3" fill="none" stroke="#c8c8c8" stroke-width="0.9" stroke-linejoin="round" stroke-linecap="round"/>
<polyline points="856.8,269.2 860.1,275.0 859.3,280.9 853.4,285.1 849.3,290.1 848.4,295.1 850.9,297.6" fill="none" stroke="#c8c8c8" stroke-width="0.9" stroke-linejoin="round" stroke-linecap="round"/>
<polyline points="711.2,194.0 718.7,193.1 727.6,194.0 735.0,193.1 739.5,199.9 744.0,208.8 751.4,216.3 758.8,219.2 763.9,223.7 759.7,229.6 754.4,232.6 757.3,240.1 761.8,246.0" fill="none" stroke="#c8c8c8" stroke-width="0.9" stroke-linejoin="round" stroke-linecap="round"/>
<polyline points="688.9,269.8 693.4,266.8 703.8,263.8 715.7,263.3 726.1,264.4 736.5,260.9 746.9,260.3 753.8,259.4 752.9,252.0 755.8,247.5 761.8,246.0" fill="none" stroke="#c8c8c8" stroke-width="0.9" stroke-linejoin="round" stroke-linecap="round"/>
<polyline points="761.8,246.0 767.7,241.5 776.7,237.1 784.1,240.1 788.6,247.5 797.5,250.5 804.9,257.9 813.8,256.4 822.8,253.4 831.7,254.9 842.1,254.9 852.5,256.4 855.5,265.3 860.0,275.7 858.5,280.2" fill="none" stroke="#c8c8c8" stroke-width="0.9" stroke-linejoin="round" stroke-linecap="round"/>
<polyline points="656.7,384.2 659.2,390.1 661.7,396.7 660.9,402.6 657.6,407.6 654.2,411.0 652.5,416.8 658.4,420.2 664.2,422.7 665.1,426.8" fill="none" stroke="#c8c8c8" stroke-width="0.9" stroke-linejoin="round" stroke-linecap="round"/>
<polyline points="661.7,396.7 668.4,400.1 672.6,405.1 676.0,409.3" fill="none" stroke="#c8c8c8" stroke-width="0.9" stroke-linejoin="round" stroke-linecap="round"/>
<polyline points="676.0,409.3 680.1,408.4 685.2,412.6 689.3,416.8 688.5,421.8 683.5,424.3 679.3,425.2 676.0,422.7 671.8,419.3 672.6,414.3 676.0,409.3" fill="none" stroke="#c8c8c8" stroke-width="0.9" stroke-linejoin="round" stroke-linecap="round"/>
<polyline points="679.3,425.2 678.5,430.2 680.1,436.9 684.3,441.9 690.2,444.4" fill="none" stroke="#c8c8c8" stroke-width="0.9" stroke-linejoin="round" stroke-linecap="round"/>
<polyline points="688.5,421.8 695.2,420.2 699.4,418.5" fill="none" stroke="#c8c8c8" stroke-width="0.9" stroke-linejoin="round" stroke-linecap="round"/>
<polyline points="665.1,426.8 664.2,433.5 666.8,441.9 667.6,448.6 670.9,455.3 675.1,460.3 680.1,458.6" fill="none" stroke="#c8c8c8" stroke-width="0.9" stroke-linejoin="round" stroke-linecap="round"/>
<polyline points="664.2,422.7 668.4,421.0 671.8,419.3" fill="none" stroke="#c8c8c8" stroke-width="0.9" stroke-linejoin="round" stroke-linecap="round"/>
<polyline points="565.0,73.6 571.7,71.9 577.6,71.1 582.6,71.1" fill="none" stroke="#6c7564" stroke-width="0.6" stroke-linejoin="round" stroke-linecap="round"/>
<polyline points="586.8,16.7 593.4,15.9 601.0,14.7" fill="none" stroke="#6c7564" stroke-width="0.6" stroke-linejoin="round" stroke-linecap="round"/>
<polyline points="467.7,300.0 469.4,306.7 468.6,313.4 467.7,318.4" fill="none" stroke="#6c7564" stroke-width="0.6" stroke-linejoin="round" stroke-linecap="round"/>
<polyline points="488.6,299.2 493.7,305.9 492.8,311.7 489.5,317.6 487.0,322.6 485.3,326.0" fill="none" stroke="#6c7564" stroke-width="0.6" stroke-linejoin="round" stroke-linecap="round"/>
<polyline points="434.3,320.9 436.8,325.1 443.5,326.0 448.5,327.6 452.7,330.1 457.7,326.0 464.4,323.4 466.6,320.9" fill="none" stroke="#6c7564" stroke-width="0.6" stroke-linejoin="round" stroke-linecap="round"/>
<polyline points="421.8,338.5 428.4,336.0 434.3,334.3 436.8,330.1 436.8,325.1" fill="none" stroke="#6c7564" stroke-width="0.6" stroke-linejoin="round" stroke-linecap="round"/>
<polyline points="452.7,330.1 456.0,334.3 453.5,339.3 448.5,343.5 446.8,347.7" fill="none" stroke="#6c7564" stroke-width="0.6" stroke-linejoin="round" stroke-linecap="round"/>
<polyline points="436.8,350.2 441.8,349.4 446.8,347.7" fill="none" stroke="#6c7564" stroke-width="0.6" stroke-linejoin="round" stroke-linecap="round"/>
<polyline points="446.8,347.7 451.9,353.5 456.9,359.4 461.9,362.7 468.6,362.7 473.6,360.2 476.9,356.9" fill="none" stroke="#6c7564" stroke-width="0.6" stroke-linejoin="round" stroke-linecap="round"/>
<polyline points="476.9,356.9 477.8,350.2 476.9,343.5 479.4,338.5 480.3,334.3" fill="none" stroke="#6c7564" stroke-width="0.6" stroke-linejoin="round" stroke-linecap="round"/>
<polyline points="485.3,331.8 488.6,337.7 495.3,341.0 502.0,345.2 508.7,342.7 515.4,341.8 522.1,345.2 527.1,344.3" fill="none" stroke="#6c7564" stroke-width="0.6" stroke-linejoin="round" stroke-linecap="round"/>
<polyline points="476.9,356.9 482.0,360.2 486.1,364.4 488.6,368.6 495.3,367.8 502.0,365.3 508.7,366.1 512.1,368.6" fill="none" stroke="#6c7564" stroke-width="0.6" stroke-linejoin="round" stroke-linecap="round"/>
<polyline points="448.4,350.0 453.5,355.0 456.8,360.9 463.5,362.5 470.2,361.7 472.7,366.7 471.0,373.4 468.5,379.3 465.2,383.4 464.3,387.6" fill="none" stroke="#6c7564" stroke-width="0.6" stroke-linejoin="round" stroke-linecap="round"/>
<polyline points="470.2,361.7 475.2,359.2 478.5,357.5 478.5,350.0" fill="none" stroke="#6c7564" stroke-width="0.6" stroke-linejoin="round" stroke-linecap="round"/>
<polyline points="478.5,357.5 485.2,360.0 488.6,365.9 495.3,366.7 500.3,364.2 505.3,366.7 510.3,367.6" fill="none" stroke="#6c7564" stroke-width="0.6" stroke-linejoin="round" stroke-linecap="round"/>
<polyline points="492.8,399.3 493.6,403.5 491.1,407.7 488.6,410.2" fill="none" stroke="#6c7564" stroke-width="0.6" stroke-linejoin="round" stroke-linecap="round"/>
<polyline points="544.3,249.2 549.3,251.7 554.3,254.2 557.6,251.7 561.0,256.7 565.2,260.1 568.5,263.4" fill="none" stroke="#6c7564" stroke-width="0.6" stroke-linejoin="round" stroke-linecap="round"/>
<polyline points="568.5,263.4 573.5,260.1 580.2,259.2 585.2,256.7 589.4,254.2 593.6,256.7" fill="none" stroke="#6c7564" stroke-width="0.6" stroke-linejoin="round" stroke-linecap="round"/>
<polyline points="568.5,263.4 565.2,265.1 561.8,266.8 562.7,273.5 560.2,278.5 559.3,283.5" fill="none" stroke="#6c7564" stroke-width="0.6" stroke-linejoin="round" stroke-linecap="round"/>
<polyline points="568.5,263.4 572.7,268.4 575.2,274.3 579.4,277.6 584.4,279.3 585.2,283.5 588.6,286.8 593.6,286.0 598.6,285.2" fill="none" stroke="#6c7564" stroke-width="0.6" stroke-linejoin="round" stroke-linecap="round"/>
<polyline points="583.6,270.1 585.2,268.4 588.2,268.4 589.6,270.1 588.2,272.1 585.2,272.1 583.6,270.1" fill="none" stroke="#6c7564" stroke-width="0.6" stroke-linejoin="round" stroke-linecap="round"/>
<polyline points="526.7,274.3 531.7,272.6 534.2,276.0 538.4,276.8 540.1,272.6 544.3,274.3 545.1,278.5 547.6,282.7 550.1,286.8 555.1,285.2 559.3,283.5" fill="none" stroke="#6c7564" stroke-width="0.6" stroke-linejoin="round" stroke-linecap="round"/>
<polyline points="559.3,283.5 564.3,286.8 570.2,288.5 575.2,285.2 581.9,285.2 585.2,283.5" fill="none" stroke="#6c7564" stroke-width="0.6" stroke-linejoin="round" stroke-linecap="round"/>
<polyline points="575.2,285.2 578.5,292.7 577.7,297.7 580.2,300.2 578.5,305.2" fill="none" stroke="#6c7564" stroke-width="0.6" stroke-linejoin="round" stroke-linecap="round"/>
<polyline points="550.1,286.8 552.6,291.9 551.0,296.9 554.3,301.1 560.2,303.6 563.5,306.1 566.8,302.7 573.5,301.1 577.7,297.7" fill="none" stroke="#6c7564" stroke-width="0.6" stroke-linejoin="round" stroke-linecap="round"/>
<polyline points="518.3,303.6 525.0,299.4 531.7,296.9 534.2,301.1 540.1,302.7 544.3,299.4 551.0,296.9" fill="none" stroke="#6c7564" stroke-width="0.6" stroke-linejoin="round" stroke-linecap="round"/>
<polyline points="534.2,301.1 535.9,306.9 540.1,311.9 538.4,316.9 543.4,315.3 548.4,313.6 551.0,308.6 554.3,301.1" fill="none" stroke="#6c7564" stroke-width="0.6" stroke-linejoin="round" stroke-linecap="round"/>
<polyline points="563.5,306.1 561.8,311.9 565.2,316.9 563.5,324.8" fill="none" stroke="#6c7564" stroke-width="0.6" stroke-linejoin="round" stroke-linecap="round"/>
<polyline points="518.3,316.9 522.5,315.3 525.0,318.6 523.4,322.8" fill="none" stroke="#6c7564" stroke-width="0.6" stroke-linejoin="round" stroke-linecap="round"/>
<polyline points="357.7,390.9 359.3,395.9 358.5,400.9" fill="none" stroke="#6c7564" stroke-width="0.6" stroke-linejoin="round" stroke-linecap="round"/>
<polyline points="382.7,401.7 383.6,397.6" fill="none" stroke="#6c7564" stroke-width="0.6" stroke-linejoin="round" stroke-linecap="round"/>
<polyline points="401.1,405.9 402.8,401.7" fill="none" stroke="#6c7564" stroke-width="0.6" stroke-linejoin="round" stroke-linecap="round"/>
<polyline points="401.1,405.9 406.2,410.9 410.3,415.1" fill="none" stroke="#6c7564" stroke-width="0.6" stroke-linejoin="round" stroke-linecap="round"/>
<polyline points="418.7,426.0 417.0,430.2 413.7,426.8" fill="none" stroke="#6c7564" stroke-width="0.6" stroke-linejoin="round" stroke-linecap="round"/>
<polyline points="410.3,435.2 412.0,440.2 414.5,444.4 412.0,450.2" fill="none" stroke="#6c7564" stroke-width="0.6" stroke-linejoin="round" stroke-linecap="round"/>
<polyline points="392.8,436.0 393.6,441.0 395.3,446.1 393.6,451.9 389.4,452.7 386.1,453.6 387.8,450.2 383.6,446.9 380.2,445.2" fill="none" stroke="#6c7564" stroke-width="0.6" stroke-linejoin="round" stroke-linecap="round"/>
<polyline points="368.5,446.9 367.7,451.9 368.5,455.3" fill="none" stroke="#6c7564" stroke-width="0.6" stroke-linejoin="round" stroke-linecap="round"/>
<polyline points="367.7,448.4 369.4,455.1 373.5,460.1 370.2,465.1 367.7,470.1" fill="none" stroke="#6c7564" stroke-width="0.6" stroke-linejoin="round" stroke-linecap="round"/>
<polyline points="342.6,474.3 347.6,476.0 352.6,479.3 358.5,476.0 362.7,471.8 367.7,470.1" fill="none" stroke="#6c7564" stroke-width="0.6" stroke-linejoin="round" stroke-linecap="round"/>
<polyline points="367.7,470.1 372.7,474.3 376.9,476.8 383.6,477.6 390.3,478.5 397.0,480.1 398.6,485.2" fill="none" stroke="#6c7564" stroke-width="0.6" stroke-linejoin="round" stroke-linecap="round"/>
<polyline points="398.6,485.2 402.8,483.5 407.0,481.8 411.2,479.3 415.4,478.5 417.0,481.8 416.2,486.8 417.9,490.2 418.7,492.7" fill="none" stroke="#6c7564" stroke-width="0.6" stroke-linejoin="round" stroke-linecap="round"/>
<polyline points="398.6,485.2 402.0,489.3 403.6,493.5 405.3,497.7" fill="none" stroke="#6c7564" stroke-width="0.6" stroke-linejoin="round" stroke-linecap="round"/>
<polyline points="417.0,455.9 414.5,461.7 412.8,465.9 414.5,470.1 416.2,475.1 415.4,478.5" fill="none" stroke="#6c7564" stroke-width="0.6" stroke-linejoin="round" stroke-linecap="round"/>
<polyline points="411.2,450.9 414.5,455.1 417.0,455.9 421.2,460.1 426.2,455.1 430.4,450.0 434.6,448.4 437.9,447.5" fill="none" stroke="#6c7564" stroke-width="0.6" stroke-linejoin="round" stroke-linecap="round"/>
<polyline points="542.6,375.1 544.3,381.0 542.6,386.0 545.1,390.2 545.9,395.2" fill="none" stroke="#6c7564" stroke-width="0.6" stroke-linejoin="round" stroke-linecap="round"/>
<polyline points="521.7,395.2 527.5,397.7 533.4,396.0 540.1,396.9 545.9,395.2 551.0,397.7 554.3,401.0" fill="none" stroke="#6c7564" stroke-width="0.6" stroke-linejoin="round" stroke-linecap="round"/>
<polyline points="565.2,358.4 562.7,365.1 560.2,370.9 562.7,376.8 565.2,381.8 570.2,388.5" fill="none" stroke="#6c7564" stroke-width="0.6" stroke-linejoin="round" stroke-linecap="round"/>
<polyline points="545.9,389.3 551.8,388.5 558.5,387.7 565.2,389.3 571.9,390.2 579.4,389.3" fill="none" stroke="#6c7564" stroke-width="0.6" stroke-linejoin="round" stroke-linecap="round"/>
<polyline points="579.4,360.1 577.7,366.8 580.2,371.8 576.0,376.0 571.9,379.3" fill="none" stroke="#6c7564" stroke-width="0.6" stroke-linejoin="round" stroke-linecap="round"/>
<polyline points="593.6,365.1 591.1,370.1 592.8,376.0 593.6,377.1" fill="none" stroke="#6c7564" stroke-width="0.6" stroke-linejoin="round" stroke-linecap="round"/>
<polyline points="554.3,401.0 560.2,401.9 566.8,403.5 573.5,404.4 580.2,406.9 582.7,403.5" fill="none" stroke="#6c7564" stroke-width="0.6" stroke-linejoin="round" stroke-linecap="round"/>
<polyline points="580.2,406.9 578.5,413.6 576.0,420.3 573.5,427.0 572.7,429.8" fill="none" stroke="#6c7564" stroke-width="0.6" stroke-linejoin="round" stroke-linecap="round"/>
<polyline points="580.2,406.9 585.2,411.9 588.6,418.6 591.1,423.6" fill="none" stroke="#6c7564" stroke-width="0.6" stroke-linejoin="round" stroke-linecap="round"/>
<polyline points="531.8,105.0 541.0,104.2 546.8,105.0 548.5,110.9 546.8,115.1 553.5,111.7 560.2,110.9 564.4,113.4 569.4,115.9" fill="none" stroke="#6c7564" stroke-width="0.6" stroke-linejoin="round" stroke-linecap="round"/>
<polyline points="520.9,120.1 526.7,121.8 534.3,120.9 539.3,117.6 546.8,115.1" fill="none" stroke="#6c7564" stroke-width="0.6" stroke-linejoin="round" stroke-linecap="round"/>
<polyline points="534.3,120.9 535.9,125.9 540.1,129.3 539.3,136.0 535.9,140.2 534.3,145.2 532.6,151.0 530.1,156.9" fill="none" stroke="#6c7564" stroke-width="0.6" stroke-linejoin="round" stroke-linecap="round"/>
<polyline points="539.3,136.0 545.1,138.5 550.2,143.5 553.5,141.8 556.8,146.8 561.0,144.3 563.5,143.5 566.0,148.5 568.5,156.9" fill="none" stroke="#6c7564" stroke-width="0.6" stroke-linejoin="round" stroke-linecap="round"/>
<polyline points="532.6,151.0 538.4,149.3 545.1,151.0 550.2,155.2 554.3,158.5 558.2,159.4" fill="none" stroke="#6c7564" stroke-width="0.6" stroke-linejoin="round" stroke-linecap="round"/>
<polyline points="532.6,157.7 534.3,163.6 536.8,166.9 542.6,168.6 546.8,169.4 545.1,176.9" fill="none" stroke="#6c7564" stroke-width="0.6" stroke-linejoin="round" stroke-linecap="round"/>
<polyline points="571.1,116.7 576.9,120.1 579.4,125.1 586.9,125.9 588.6,121.8 592.0,118.4 594.5,115.1 602.0,114.7 609.5,115.1" fill="none" stroke="#6c7564" stroke-width="0.6" stroke-linejoin="round" stroke-linecap="round"/>
<polyline points="575.2,145.2 581.9,150.2 588.6,153.5 596.1,151.0 601.2,146.8 607.0,144.3 611.2,140.2" fill="none" stroke="#6c7564" stroke-width="0.6" stroke-linejoin="round" stroke-linecap="round"/>
<polyline points="588.6,153.5 589.4,160.2 588.6,166.9 591.1,171.9 592.8,176.1 591.1,182.0 586.9,184.8" fill="none" stroke="#6c7564" stroke-width="0.6" stroke-linejoin="round" stroke-linecap="round"/>
<polyline points="569.4,163.6 575.2,165.2 578.6,168.6 583.6,166.9 588.6,166.9" fill="none" stroke="#6c7564" stroke-width="0.6" stroke-linejoin="round" stroke-linecap="round"/>
<polyline points="591.1,182.0 598.6,181.1 605.3,182.0 610.4,178.6" fill="none" stroke="#6c7564" stroke-width="0.6" stroke-linejoin="round" stroke-linecap="round"/>
<polyline points="613.7,155.2 615.4,150.2 620.4,146.8 622.1,145.2" fill="none" stroke="#6c7564" stroke-width="0.6" stroke-linejoin="round" stroke-linecap="round"/>
<polyline points="613.7,155.2 612.9,161.9 615.4,168.6" fill="none" stroke="#6c7564" stroke-width="0.6" stroke-linejoin="round" stroke-linecap="round"/>
<polyline points="615.1,235.9 616.8,241.7 617.6,246.7 615.9,251.8 611.7,256.8 610.1,260.1 604.2,262.6 600.0,265.1 596.7,266.8" fill="none" stroke="#6c7564" stroke-width="0.6" stroke-linejoin="round" stroke-linecap="round"/>
<polyline points="617.6,246.7 622.6,250.1 627.6,247.6 635.2,247.6 640.2,248.4 639.3,243.4 640.2,238.4 638.5,236.7" fill="none" stroke="#6c7564" stroke-width="0.6" stroke-linejoin="round" stroke-linecap="round"/>
<polyline points="640.2,248.4 646.9,254.3 653.5,251.8 660.2,248.4 666.1,245.9 671.1,241.7 671.9,237.5 670.3,232.0" fill="none" stroke="#6c7564" stroke-width="0.6" stroke-linejoin="round" stroke-linecap="round"/>
<polyline points="622.6,250.1 623.4,256.8 626.0,262.6 631.8,265.1 637.7,266.8 641.8,268.5 644.3,262.6 646.0,257.6 646.9,254.3" fill="none" stroke="#6c7564" stroke-width="0.6" stroke-linejoin="round" stroke-linecap="round"/>
<polyline points="610.1,260.1 610.9,266.8 611.7,273.5 615.1,278.5 611.7,281.0 606.7,284.4 603.4,287.7" fill="none" stroke="#6c7564" stroke-width="0.6" stroke-linejoin="round" stroke-linecap="round"/>
<polyline points="615.1,278.5 620.1,280.2 625.1,281.0 630.1,284.4 631.8,287.7 629.3,290.2 627.6,295.2 626.0,298.6 624.3,301.9" fill="none" stroke="#6c7564" stroke-width="0.6" stroke-linejoin="round" stroke-linecap="round"/>
<polyline points="641.8,268.5 638.5,274.3 636.8,279.3 634.3,283.5 631.8,287.7" fill="none" stroke="#6c7564" stroke-width="0.6" stroke-linejoin="round" stroke-linecap="round"/>
<polyline points="641.8,268.5 647.7,267.6 652.7,271.0 656.9,275.2 657.7,279.3 656.9,282.7 653.5,286.0 651.9,289.4 646.0,289.4 640.2,288.5 634.3,287.7" fill="none" stroke="#6c7564" stroke-width="0.6" stroke-linejoin="round" stroke-linecap="round"/>
<polyline points="663.6,251.8 667.8,255.9 671.9,260.1 676.1,262.6 682.0,262.6" fill="none" stroke="#6c7564" stroke-width="0.6" stroke-linejoin="round" stroke-linecap="round"/>
<polyline points="676.1,262.6 673.6,266.8 669.4,271.0 668.6,276.8 670.3,283.5 671.9,288.5 677.0,289.4 681.1,293.6 689.5,291.9" fill="none" stroke="#6c7564" stroke-width="0.6" stroke-linejoin="round" stroke-linecap="round"/>
<polyline points="656.9,282.7 663.6,284.4 670.3,283.5" fill="none" stroke="#6c7564" stroke-width="0.6" stroke-linejoin="round" stroke-linecap="round"/>
<polyline points="671.9,288.5 668.6,293.6 666.1,296.9 660.2,299.4 655.2,295.2 651.9,289.4" fill="none" stroke="#6c7564" stroke-width="0.6" stroke-linejoin="round" stroke-linecap="round"/>
<polyline points="640.2,288.5 639.3,295.2 638.5,300.3 638.5,307.8" fill="none" stroke="#6c7564" stroke-width="0.6" stroke-linejoin="round" stroke-linecap="round"/>
<polyline points="666.1,296.9 667.8,303.6 669.4,308.6 670.3,311.1" fill="none" stroke="#6c7564" stroke-width="0.6" stroke-linejoin="round" stroke-linecap="round"/>
<polyline points="654.4,295.2 650.2,298.6 647.7,303.6 646.0,306.9 648.5,311.1" fill="none" stroke="#6c7564" stroke-width="0.6" stroke-linejoin="round" stroke-linecap="round"/>
<polyline points="712.8,330.1 714.4,335.1 715.3,339.3 721.1,338.4 724.5,342.6 727.8,346.8 732.0,351.8 733.7,353.5 738.7,351.0 745.4,349.3 749.6,348.1" fill="none" stroke="#6c7564" stroke-width="0.6" stroke-linejoin="round" stroke-linecap="round"/>
<polyline points="715.3,339.3 710.3,343.5 705.3,348.5 703.6,351.8 696.9,353.5 691.9,354.3 685.2,353.5 679.3,353.5" fill="none" stroke="#6c7564" stroke-width="0.6" stroke-linejoin="round" stroke-linecap="round"/>
<polyline points="691.9,354.3 696.1,358.5 700.2,362.7 703.6,367.7 708.6,366.0 715.3,364.4 720.3,363.5 725.3,364.4 731.2,362.7 733.7,358.5 733.7,353.5" fill="none" stroke="#6c7564" stroke-width="0.6" stroke-linejoin="round" stroke-linecap="round"/>
<polyline points="703.6,367.7 698.6,371.1 694.4,374.4 692.7,380.3 690.2,383.6" fill="none" stroke="#6c7564" stroke-width="0.6" stroke-linejoin="round" stroke-linecap="round"/>
<polyline points="715.3,364.4 716.1,370.2 718.6,375.2 721.1,380.3 720.3,385.3 722.0,393.6" fill="none" stroke="#6c7564" stroke-width="0.6" stroke-linejoin="round" stroke-linecap="round"/>
<polyline points="731.2,362.7 733.7,367.7 738.7,371.1 745.4,370.2 752.1,369.4 756.3,371.9 755.4,376.1 752.9,378.6 747.1,381.1" fill="none" stroke="#6c7564" stroke-width="0.6" stroke-linejoin="round" stroke-linecap="round"/>
<polyline points="732.3,377.2 733.3,374.2 735.4,373.6 737.0,375.2 737.2,378.6 735.7,380.9 733.7,380.6 732.3,377.2" fill="none" stroke="#6c7564" stroke-width="0.6" stroke-linejoin="round" stroke-linecap="round"/>
<polyline points="727.0,392.6 727.8,397.6 726.1,402.6 725.3,406.8 727.8,408.4 733.6,405.9 739.5,403.4 747.0,401.8 753.7,400.1 759.6,399.2" fill="none" stroke="#6c7564" stroke-width="0.6" stroke-linejoin="round" stroke-linecap="round"/>
<polyline points="702.7,405.9 708.6,405.1 714.4,405.9 719.4,408.4 721.9,409.3 725.3,406.8" fill="none" stroke="#6c7564" stroke-width="0.6" stroke-linejoin="round" stroke-linecap="round"/>
<polyline points="721.9,409.3 717.8,412.6 715.3,417.6 716.9,422.7 721.1,426.8 724.4,427.7" fill="none" stroke="#6c7564" stroke-width="0.6" stroke-linejoin="round" stroke-linecap="round"/>
<polyline points="727.8,408.4 730.3,414.3 736.2,415.1 742.0,414.3 746.2,415.1 749.5,417.6" fill="none" stroke="#6c7564" stroke-width="0.6" stroke-linejoin="round" stroke-linecap="round"/>
<polyline points="739.5,403.4 737.0,397.6 740.3,393.4 747.0,390.9 750.4,386.7 753.7,381.7" fill="none" stroke="#6c7564" stroke-width="0.6" stroke-linejoin="round" stroke-linecap="round"/>
<polyline points="704.4,454.9 708.6,458.6 711.9,462.0 714.4,464.8" fill="none" stroke="#6c7564" stroke-width="0.6" stroke-linejoin="round" stroke-linecap="round"/>
<polyline points="716.1,432.7 718.6,436.0 721.9,438.5 724.4,439.4" fill="none" stroke="#6c7564" stroke-width="0.6" stroke-linejoin="round" stroke-linecap="round"/>
<polyline points="578.4,410.0 576.7,416.7 575.1,423.4 572.5,426.7" fill="none" stroke="#6c7564" stroke-width="0.6" stroke-linejoin="round" stroke-linecap="round"/>
<polyline points="576.7,416.7 583.4,412.5 586.8,420.0 590.9,425.1 596.0,422.5" fill="none" stroke="#6c7564" stroke-width="0.6" stroke-linejoin="round" stroke-linecap="round"/>
<polyline points="590.9,425.1 590.1,431.7 593.4,436.8 601.0,440.9 603.5,437.6 608.5,435.1" fill="none" stroke="#6c7564" stroke-width="0.6" stroke-linejoin="round" stroke-linecap="round"/>
<polyline points="601.0,440.9 600.1,446.0" fill="none" stroke="#6c7564" stroke-width="0.6" stroke-linejoin="round" stroke-linecap="round"/>
<polyline points="608.5,435.1 613.5,437.6 614.3,442.6 618.5,448.5 624.4,447.6 630.2,451.0 635.3,454.3 634.4,458.5" fill="none" stroke="#6c7564" stroke-width="0.6" stroke-linejoin="round" stroke-linecap="round"/>
<polyline points="618.5,448.5 619.4,455.2 622.7,460.2 624.4,466.9" fill="none" stroke="#6c7564" stroke-width="0.6" stroke-linejoin="round" stroke-linecap="round"/>
<polyline points="622.7,460.2 630.2,463.5 634.4,461.8" fill="none" stroke="#6c7564" stroke-width="0.6" stroke-linejoin="round" stroke-linecap="round"/>
<polyline points="658.5,138.6 661.0,132.8 666.1,130.3 671.9,127.7 676.1,128.6 678.6,126.1 681.9,129.4" fill="none" stroke="#6c7564" stroke-width="0.6" stroke-linejoin="round" stroke-linecap="round"/>
<polyline points="645.2,84.3 650.2,86.8 653.5,91.0 657.7,92.6 659.4,85.9 662.7,84.3 666.9,85.9 668.6,91.0 671.9,96.8 674.4,101.8 676.1,108.5 676.9,116.0" fill="none" stroke="#6c7564" stroke-width="0.6" stroke-linejoin="round" stroke-linecap="round"/>
<polyline points="600.0,114.9 605.0,114.9 610.0,114.4" fill="none" stroke="#6c7564" stroke-width="0.6" stroke-linejoin="round" stroke-linecap="round"/>
<polyline points="682.7,212.7 686.1,211.1 690.2,211.9 693.6,214.4 697.8,211.9 701.1,211.1" fill="none" stroke="#6c7564" stroke-width="0.6" stroke-linejoin="round" stroke-linecap="round"/>
<polyline points="682.7,212.7 684.4,216.9 686.9,220.3 686.1,224.4 689.4,227.8 693.6,228.6" fill="none" stroke="#6c7564" stroke-width="0.6" stroke-linejoin="round" stroke-linecap="round"/>
<polyline points="588.4,300.0 590.9,305.9 590.1,310.9 593.4,315.1 598.5,316.8 604.3,315.1 608.5,310.9 607.7,305.9 602.6,302.5 599.3,298.4" fill="none" stroke="#6c7564" stroke-width="0.6" stroke-linejoin="round" stroke-linecap="round"/>
<polyline points="597.1,308.7 598.5,307.2 600.6,307.7 601.1,309.4 599.5,310.6 597.6,310.1 597.1,308.7" fill="none" stroke="#6c7564" stroke-width="0.6" stroke-linejoin="round" stroke-linecap="round"/>
<polyline points="608.5,310.9 615.2,313.4 622.7,315.1 624.4,310.1 622.7,305.1 624.4,300.9" fill="none" stroke="#6c7564" stroke-width="0.6" stroke-linejoin="round" stroke-linecap="round"/>
<polyline points="622.7,315.1 626.9,319.3 628.6,323.4 632.7,325.1" fill="none" stroke="#6c7564" stroke-width="0.6" stroke-linejoin="round" stroke-linecap="round"/>
<polyline points="604.3,315.1 606.0,320.9 606.0,326.0" fill="none" stroke="#6c7564" stroke-width="0.6" stroke-linejoin="round" stroke-linecap="round"/>
<polyline points="628.6,303.4 630.2,308.4 635.3,311.7 640.3,316.8" fill="none" stroke="#6c7564" stroke-width="0.6" stroke-linejoin="round" stroke-linecap="round"/>
<polyline points="606.0,326.0 605.2,331.8 601.0,337.7 604.3,343.5 610.2,344.3 616.9,342.7 622.7,343.5 626.1,342.7" fill="none" stroke="#6c7564" stroke-width="0.6" stroke-linejoin="round" stroke-linecap="round"/>
<polyline points="602.6,329.3 601.0,337.7 595.1,340.2 590.9,343.5 586.8,343.5" fill="none" stroke="#6c7564" stroke-width="0.6" stroke-linejoin="round" stroke-linecap="round"/>
<polyline points="590.9,343.5 592.6,349.4 596.8,353.5 596.0,356.9 591.8,364.4" fill="none" stroke="#6c7564" stroke-width="0.6" stroke-linejoin="round" stroke-linecap="round"/>
<polyline points="596.8,353.5 603.5,352.7 610.2,353.5 616.9,355.2 622.7,356.1" fill="none" stroke="#6c7564" stroke-width="0.6" stroke-linejoin="round" stroke-linecap="round"/>
<polyline points="619.4,336.3 620.5,334.8 622.5,335.5 622.9,337.2 621.2,338.2 619.7,337.7 619.4,336.3" fill="none" stroke="#6c7564" stroke-width="0.6" stroke-linejoin="round" stroke-linecap="round"/>
<polyline points="641.9,316.8 643.6,323.4 642.8,330.1 647.0,338.5" fill="none" stroke="#6c7564" stroke-width="0.6" stroke-linejoin="round" stroke-linecap="round"/>
<polyline points="653.6,315.1 657.0,320.9 662.0,328.5" fill="none" stroke="#6c7564" stroke-width="0.6" stroke-linejoin="round" stroke-linecap="round"/>
<polyline points="635.3,341.0 631.9,346.9 631.1,352.7 633.6,358.6 631.9,364.4" fill="none" stroke="#6c7564" stroke-width="0.6" stroke-linejoin="round" stroke-linecap="round"/>
<polyline points="633.6,358.6 640.3,356.1 647.0,354.4 651.1,356.9 650.3,363.6 651.1,370.3" fill="none" stroke="#6c7564" stroke-width="0.6" stroke-linejoin="round" stroke-linecap="round"/>
<polyline points="649.5,343.8 650.6,342.5 652.6,343.2 653.0,345.2 651.3,346.2 649.8,345.5 649.5,343.8" fill="none" stroke="#6c7564" stroke-width="0.6" stroke-linejoin="round" stroke-linecap="round"/>
<polyline points="647.0,338.5 651.1,347.7 657.8,351.0 663.7,352.7 670.4,347.7 677.1,345.2 680.4,346.0" fill="none" stroke="#6c7564" stroke-width="0.6" stroke-linejoin="round" stroke-linecap="round"/>
<polyline points="657.8,351.0 651.1,356.9" fill="none" stroke="#6c7564" stroke-width="0.6" stroke-linejoin="round" stroke-linecap="round"/>
<polyline points="560.0,75.0 568.8,73.8 580.0,72.5" fill="none" stroke="#6c7564" stroke-width="0.6" stroke-linejoin="round" stroke-linecap="round"/>
<polyline points="593.8,115.0 587.5,118.8 586.2,125.0 580.0,123.8 575.0,120.0 571.2,120.0" fill="none" stroke="#6c7564" stroke-width="0.6" stroke-linejoin="round" stroke-linecap="round"/>
<polyline points="593.8,115.0 602.5,113.8 610.0,115.0" fill="none" stroke="#6c7564" stroke-width="0.6" stroke-linejoin="round" stroke-linecap="round"/>
<polyline points="375.4,238.9 380.2,240.9 384.2,242.8 386.1,246.7 392.0,247.7 396.8,248.7 399.8,250.6" fill="none" stroke="#6c7564" stroke-width="0.6" stroke-linejoin="round" stroke-linecap="round"/>
<polyline points="384.2,242.8 386.1,236.0 388.1,230.1 392.0,228.2 397.8,231.1 401.7,229.7" fill="none" stroke="#6c7564" stroke-width="0.6" stroke-linejoin="round" stroke-linecap="round"/>
<polyline points="506.6,289.0 508.2,285.1 504.9,282.9 501.5,281.8 498.2,282.9 495.9,284.6" fill="none" stroke="#6c7564" stroke-width="0.6" stroke-linejoin="round" stroke-linecap="round"/>
<polyline points="501.5,281.8 503.8,278.4 503.2,273.9 506.0,271.7 509.9,272.3 512.7,270.0 516.1,271.1 518.3,279.5" fill="none" stroke="#6c7564" stroke-width="0.6" stroke-linejoin="round" stroke-linecap="round"/>
<polyline points="506.0,271.7 506.6,267.8 509.4,265.6 512.7,264.4 516.1,262.8 518.8,259.2" fill="none" stroke="#6c7564" stroke-width="0.6" stroke-linejoin="round" stroke-linecap="round"/>
<polyline points="512.7,264.4 514.9,267.2 518.3,267.2 522.2,268.9" fill="none" stroke="#6c7564" stroke-width="0.6" stroke-linejoin="round" stroke-linecap="round"/>
<polyline points="509.9,272.3 511.0,276.2 510.5,279.5 513.8,280.6 516.1,281.8" fill="none" stroke="#6c7564" stroke-width="0.6" stroke-linejoin="round" stroke-linecap="round"/>
<polyline points="504.9,282.9 507.1,281.2 510.5,279.5" fill="none" stroke="#6c7564" stroke-width="0.6" stroke-linejoin="round" stroke-linecap="round"/>
<polyline points="613.5,5.9 612.7,10.0 611.8,14.2 607.7,15.9 601.8,16.7 601.0,22.6 596.0,25.1 593.4,29.3 591.8,35.1 592.6,41.0 590.9,46.8 587.6,51.8 584.2,57.7 583.4,64.4 582.6,71.1 580.1,76.9 580.9,82.8 579.2,89.8 568.8,100.0 569.4,101.7 569.4,110.1 571.1,116.7 572.7,123.4 575.2,129.3 574.9,135.1 573.6,141.8 572.7,148.5 571.1,153.5 568.5,156.9 567.7,161.9 566.9,166.9 565.5,168.6" fill="none" stroke="#2a3515" stroke-width="0.9" stroke-linejoin="round" stroke-linecap="round"/>
<polyline points="614.8,4.2 616.0,10.0 621.9,12.5 628.6,15.1 633.6,18.4 634.4,24.2 636.9,30.1 639.4,36.0 641.1,41.8 642.8,47.7 645.3,51.8" fill="none" stroke="#2a3515" stroke-width="0.9" stroke-linejoin="round" stroke-linecap="round"/>
<polyline points="613.5,5.9 614.8,4.2 616.0,2.5 617.7,0.8 623.5,3.3 630.2,7.5 635.3,6.7 640.3,7.5 642.8,3.3 643.6,-0.8" fill="none" stroke="#2a3515" stroke-width="0.9" stroke-linejoin="round" stroke-linecap="round"/>
<polyline points="643.5,234.2 651.9,233.4 660.2,232.5 670.3,232.0 673.6,234.2 678.6,235.9 681.1,236.7" fill="none" stroke="#2a3515" stroke-width="0.9" stroke-linejoin="round" stroke-linecap="round"/>
<polyline points="594.4,250.1 593.6,256.7 595.3,263.4 597.8,269.3 598.6,276.8 601.1,283.5 602.8,290.2 602.0,294.4" fill="none" stroke="#2a3515" stroke-width="0.9" stroke-linejoin="round" stroke-linecap="round"/>
<polyline points="602.0,294.4 597.8,293.5 596.9,296.0 591.9,298.5 585.2,301.9 578.5,305.2 576.0,307.7 578.5,312.8 581.9,316.9 585.2,321.1 588.6,324.8 593.4,330.1" fill="none" stroke="#2a3515" stroke-width="0.9" stroke-linejoin="round" stroke-linecap="round"/>
<polyline points="602.0,294.4 606.1,293.5 612.0,296.9 617.0,299.4 619.5,303.6 623.7,301.1 630.4,303.6 635.4,305.2 639.6,307.7 643.6,312.6" fill="none" stroke="#2a3515" stroke-width="0.9" stroke-linejoin="round" stroke-linecap="round"/>
<polyline points="593.4,330.1 597.6,331.8 602.6,329.3 606.0,326.0 611.0,326.0 616.9,326.8 621.9,327.6 627.7,328.5" fill="none" stroke="#2a3515" stroke-width="0.9" stroke-linejoin="round" stroke-linecap="round"/>
<polyline points="531.2,350.0 538.8,348.8 547.5,347.5 551.2,350.0" fill="none" stroke="#2a3515" stroke-width="0.9" stroke-linejoin="round" stroke-linecap="round"/>
<polyline points="517.2,318.0 520.5,321.4 526.1,323.6 530.6,325.3 535.1,326.4 532.8,330.3 530.6,334.8 528.9,340.0 529.5,346.2 531.2,350.0" fill="none" stroke="#2a3515" stroke-width="0.9" stroke-linejoin="round" stroke-linecap="round"/>
<polyline points="333.4,410.1 337.6,409.3 341.8,409.3 340.9,412.6 346.0,414.3 351.8,414.3 356.0,415.1 358.5,417.6 360.2,421.8 361.0,423.5 356.8,426.8 353.8,430.2 352.6,435.2 351.8,440.2 349.3,440.0 348.5,445.0 346.0,448.4 341.8,450.0 343.4,455.1 344.3,460.1 341.8,465.1 340.1,470.1 342.6,474.3 339.3,477.6 335.9,481.0 335.1,486.0" fill="none" stroke="#2a3515" stroke-width="0.9" stroke-linejoin="round" stroke-linecap="round"/>
<polyline points="516.2,368.8 520.0,372.5 518.8,380.0 520.0,387.5 523.8,395.0 522.5,400.0 524.2,403.8" fill="none" stroke="#2a3515" stroke-width="0.9" stroke-linejoin="round" stroke-linecap="round"/>
<polyline points="618.5,388.4 619.1,385.1 623.0,384.0 627.5,383.4 631.9,382.9 637.5,382.9 643.1,383.2 647.6,384.0 652.1,385.1 654.8,384.5 656.0,381.2 658.2,380.1 656.5,377.8 653.7,376.1 652.1,372.8 652.3,368.3 653.8,368.8 660.0,365.0 667.5,366.2 675.0,372.5 682.5,378.8 690.0,383.8 696.2,385.0 696.2,392.5 700.0,400.0 703.8,407.5 700.0,415.0 698.8,424.0 707.4,430.0 708.2,432.2 706.7,435.2 702.2,438.2 697.7,440.5 695.5,444.2 692.5,443.5 686.5,445.0 685.0,450.2 683.5,455.5 681.2,460.0 679.3,463.7" fill="none" stroke="#2a3515" stroke-width="0.9" stroke-linejoin="round" stroke-linecap="round"/>
<polyline points="549.3,350.9 552.6,353.4 556.8,353.0 563.5,350.9 570.2,349.2 576.9,347.5 583.6,345.9 585.1,347.7 586.8,343.5 585.1,339.3 587.6,335.2 590.9,331.8 593.4,330.1" fill="none" stroke="#2a3515" stroke-width="0.9" stroke-linejoin="round" stroke-linecap="round"/>
<polyline points="558.8,360.9 565.2,358.4 571.0,357.6 576.9,356.7 579.4,360.1 583.6,362.6 588.6,363.4 593.6,365.1 598.6,365.4 603.6,365.9" fill="none" stroke="#2a3515" stroke-width="0.9" stroke-linejoin="round" stroke-linecap="round"/>
<polyline points="603.6,365.9 608.6,363.4 613.7,361.7 618.7,360.9 622.0,358.4" fill="none" stroke="#2a3515" stroke-width="0.9" stroke-linejoin="round" stroke-linecap="round"/>
<polyline points="626.9,333.5 628.6,338.5 626.1,342.7 623.5,346.0 624.4,351.0 622.7,356.1 621.0,357.7" fill="none" stroke="#2a3515" stroke-width="0.9" stroke-linejoin="round" stroke-linecap="round"/>
<polyline points="603.6,365.9 606.1,370.9 605.3,375.1 603.6,379.3" fill="none" stroke="#2a3515" stroke-width="0.9" stroke-linejoin="round" stroke-linecap="round"/>
<polyline points="603.6,379.3 606.1,378.5 608.6,380.1 612.0,377.6 615.3,373.4 618.7,370.1 622.0,366.8 622.9,362.6 622.0,358.4" fill="none" stroke="#2a3515" stroke-width="0.9" stroke-linejoin="round" stroke-linecap="round"/>
<polyline points="622.9,362.6 628.7,365.1 633.7,369.3 640.4,371.8 647.1,372.6 652.1,370.9 655.5,368.4" fill="none" stroke="#2a3515" stroke-width="0.9" stroke-linejoin="round" stroke-linecap="round"/>
<polyline points="764.6,382.8 758.8,381.6 752.1,381.1 745.4,382.8 740.4,385.3 734.5,388.6 728.7,392.0 722.0,393.6 713.6,394.5 705.3,394.5 700.2,392.8 698.6,390.3" fill="none" stroke="#2a3515" stroke-width="0.9" stroke-linejoin="round" stroke-linecap="round"/>
<polyline points="689.4,330.1 686.0,334.3 683.5,338.4 681.8,343.5 680.2,348.5 678.5,353.5 675.2,358.5 671.0,362.7 667.6,364.4" fill="none" stroke="#2a3515" stroke-width="0.9" stroke-linejoin="round" stroke-linecap="round"/>
<polyline points="627.7,328.5 626.9,333.5 630.2,337.7 635.3,341.0 635.0,340.1 640.9,341.8 645.9,339.3 648.4,335.9 653.4,334.3 658.4,331.8 663.4,327.6 670.1,325.1 676.0,325.1 680.2,326.7 685.2,325.9 689.4,330.1" fill="none" stroke="#2a3515" stroke-width="0.9" stroke-linejoin="round" stroke-linecap="round"/>
<polyline points="641.7,311.7 646.7,313.4 650.9,310.0 655.1,312.5 657.6,315.9 662.6,313.4 668.5,311.7 675.2,310.9 680.2,312.5 684.3,313.4" fill="none" stroke="#2a3515" stroke-width="0.9" stroke-linejoin="round" stroke-linecap="round"/>
<polyline points="625.8,330.1 630.0,325.1 634.2,322.6 637.5,318.4 640.9,314.2 641.7,311.7" fill="none" stroke="#2a3515" stroke-width="0.9" stroke-linejoin="round" stroke-linecap="round"/>
<polyline points="707.7,433.9 713.6,431.9 718.6,430.2 724.4,427.7 730.3,429.3 735.3,428.8 741.2,429.3 747.0,428.2" fill="none" stroke="#2a3515" stroke-width="0.9" stroke-linejoin="round" stroke-linecap="round"/>
<polyline points="673.5,171.8 678.5,170.1 684.4,170.9 689.4,173.4 692.7,175.1 696.9,173.4 701.1,172.6" fill="none" stroke="#2a3515" stroke-width="0.9" stroke-linejoin="round" stroke-linecap="round"/>
<polyline points="651.8,206.1 656.0,202.7 661.8,200.5 668.5,199.4 675.2,198.9 680.2,197.7 682.7,196.0 686.1,198.5 691.1,199.4 696.1,201.0 700.3,204.4" fill="none" stroke="#2a3515" stroke-width="0.9" stroke-linejoin="round" stroke-linecap="round"/>
<polyline points="656.0,220.3 661.8,221.9 667.7,222.8 670.2,225.3 671.0,229.8" fill="none" stroke="#2a3515" stroke-width="0.9" stroke-linejoin="round" stroke-linecap="round"/>
<polyline points="541.2,233.1 544.9,233.9 548.3,233.4 551.9,234.4" fill="none" stroke="#2a3515" stroke-width="0.9" stroke-linejoin="round" stroke-linecap="round"/>
</g>
<rect width="868" height="538" fill="url(#vtr)"/>
<rect width="868" height="538" fill="url(#vtb)"/>
<rect width="868" height="538" fill="url(#vtop)"/>
<g id="legend">
<g>
<path d="M19.6,0 Q21.5,4.6 26.6,7.6 Q23.2,4.2 22.2,0 Z" fill="#2a3a6e" opacity="0.85"/>
<path d="M28.6,0 Q29.6,2.8 31.9,4.8 Q30.6,2.4 30.3,0 Z" fill="#2a3a6e" opacity="0.8"/>
<path d="M22.6,0 L24.6,0 Q24.4,2 23.6,3.2 Z" fill="#58b030" opacity="0.8"/>
<path d="M38.6,0 L41,0 L40,2 Z M45.6,0 L50,0 L48.5,1.6 Z" fill="#58b030" opacity="0.6"/>
<g fill="none" stroke-width="2.55" stroke-linecap="butt">
<path d="M47.9,11.5 L36.2,11.5" stroke="#1b2860" stroke-width="1.3"/>
<path d="M47.9,12.1 A6.0,6.6 0 0 0 41.4,5.4 A6.3,7.2 0 0 0 41.6,19.3 A6.6,6.6 0 0 0 47.6,16.2" stroke="#1b2860"/>
<path d="M63.0,8.4 A6.0,6.9 0 0 0 57.0,5.4 A6.1,7.0 0 0 0 57.2,19.3 A6.4,6.6 0 0 0 63.4,15.6" stroke="#4cab2c"/>
<ellipse cx="70.3" cy="12.4" rx="5.7" ry="6.9" stroke="#4cab2c"/>
<path d="M78.6,-1 C76.6,4 76.0,12 77.2,15.5 C78,18 79.4,19.2 81.4,19.2" stroke="#4cab2c" stroke-width="2.6"/>
<path d="M96.6,8.4 A6.0,6.9 0 0 0 90.4,5.4 A6.1,7.0 0 0 0 90.6,19.3 A6.4,6.6 0 0 0 97.0,15.6" stroke="#1b2860"/>
</g>
<rect x="34" y="25.3" width="15.5" height="10.4" fill="#1c3f9c"/>
<circle cx="41.75" cy="30.5" r="3" fill="none" stroke="#b8a848" stroke-width="0.7" stroke-dasharray="0.7 0.87" opacity="0.8"/>
<g font-size="3.15" font-weight="bold" fill="#2b3a78">
<text x="53" y="28.3" textLength="44" lengthAdjust="spacingAndGlyphs">EUROPEAN CENTRE FOR</text>
<text x="53" y="31.9" textLength="38.5" lengthAdjust="spacingAndGlyphs">DISEASE PREVENTION</text>
<text x="53" y="35.7" textLength="27.5" lengthAdjust="spacingAndGlyphs">AND CONTROL</text>
</g></g>
<g font-weight="bold" font-size="12.7" fill="#000" stroke="#000" stroke-width="0.22" word-spacing="0.8">
<text x="15.2" y="83.5" textLength="244" lengthAdjust="spacingAndGlyphs">14-day COVID-19 case notification rate</text>
<text x="15.2" y="98.2" textLength="315" lengthAdjust="spacingAndGlyphs">per 100 000 population and test positivity, EU/EEA</text>
<text x="15.2" y="113" textLength="86" lengthAdjust="spacingAndGlyphs">weeks 26 - 27</text>
</g>
<rect x="41" y="134.8" width="146" height="127" fill="#fcfcfc"/>
<rect x="42" y="135.75" width="46.6" height="23.1" fill="#7f100a" stroke="#4e4e4e" stroke-width="0.6"/>
<rect x="90.75" y="135.75" width="46.6" height="23.1" fill="#7f100a" stroke="#4e4e4e" stroke-width="0.6"/>
<rect x="139.5" y="135.75" width="46.6" height="23.1" fill="#7f100a" stroke="#4e4e4e" stroke-width="0.6"/>
<rect x="42" y="161" width="46.6" height="23.1" fill="#b83c12" stroke="#4e4e4e" stroke-width="0.6"/>
<rect x="90.75" y="161" width="46.6" height="23.1" fill="#b83c12" stroke="#4e4e4e" stroke-width="0.6"/>
<rect x="139.5" y="161" width="46.6" height="23.1" fill="#b83c12" stroke="#4e4e4e" stroke-width="0.6"/>
<rect x="42" y="186.5" width="46.6" height="23.1" fill="#f2aa2e" stroke="#4e4e4e" stroke-width="0.6"/>
<rect x="90.75" y="186.5" width="46.6" height="23.1" fill="#f2aa2e" stroke="#4e4e4e" stroke-width="0.6"/>
<rect x="139.5" y="186.5" width="46.6" height="23.1" fill="#b83c12" stroke="#4e4e4e" stroke-width="0.6"/>
<rect x="42" y="212.25" width="46.6" height="23.1" fill="#65b22b" stroke="#4e4e4e" stroke-width="0.6"/>
<rect x="90.75" y="212.25" width="46.6" height="23.1" fill="#f2aa2e" stroke="#4e4e4e" stroke-width="0.6"/>
<rect x="139.5" y="212.25" width="46.6" height="23.1" fill="#f2aa2e" stroke="#4e4e4e" stroke-width="0.6"/>
<rect x="42" y="237.6" width="46.6" height="23.1" fill="#65b22b" stroke="#4e4e4e" stroke-width="0.6"/>
<rect x="90.75" y="237.6" width="46.6" height="23.1" fill="#65b22b" stroke="#4e4e4e" stroke-width="0.6"/>
<rect x="139.5" y="237.6" width="46.6" height="23.1" fill="#f2aa2e" stroke="#4e4e4e" stroke-width="0.6"/>
<path d="M27.5,262.5 L27.5,139" stroke="#111" stroke-width="1" fill="none"/><path d="M27.5,132.8 L25.2,140.2 L29.8,140.2 Z" fill="#111"/>
<path d="M37,276.3 L178,276.3" stroke="#111" stroke-width="1" fill="none"/><path d="M184.2,276.3 L176.5,273.9 L176.5,278.7 Z" fill="#111"/>
<text transform="translate(21.8,268.5) rotate(-90)" font-size="6.7" fill="#111" stroke="#111" stroke-width="0.15" textLength="138.5" lengthAdjust="spacingAndGlyphs">14-day notification rate per 100 000 population</text>
<text transform="translate(39.3,147.3) rotate(-90)" font-size="4.7" fill="#222" text-anchor="middle">≥500</text>
<text transform="translate(39.3,172.55) rotate(-90)" font-size="4.7" fill="#222" text-anchor="middle">&gt;200-499</text>
<text transform="translate(39.3,198.05) rotate(-90)" font-size="4.7" fill="#222" text-anchor="middle">75-200</text>
<text transform="translate(39.3,223.8) rotate(-90)" font-size="4.7" fill="#222" text-anchor="middle">50-74</text>
<text transform="translate(39.3,249.15) rotate(-90)" font-size="4.7" fill="#222" text-anchor="middle">&lt;50</text>
<text x="69" y="269.2" font-size="7.1" fill="#1a1a1a" text-anchor="middle">&lt;1%</text>
<text x="115" y="269.2" font-size="7.1" fill="#1a1a1a" text-anchor="middle">1&lt;4%</text>
<text x="164" y="269.2" font-size="7.1" fill="#1a1a1a" text-anchor="middle">≥4%</text>
<text x="114" y="286" font-size="6" fill="#1a1a1a" text-anchor="middle" textLength="40.5" lengthAdjust="spacingAndGlyphs">Positivity rate</text>
<rect x="14.8" y="302.2" width="30.3" height="14.8" fill="#c3c3c3" stroke="#858585" stroke-width="0.7"/>
<text x="52.2" y="314.5" font-size="11.1" fill="#0a0a0a" stroke="#0a0a0a" stroke-width="0.12" textLength="191.8" lengthAdjust="spacingAndGlyphs">Testing rate &lt; 300 per 100 000 population</text>
<rect x="14.8" y="323" width="30.3" height="14.8" fill="#8f8f8f" stroke="#5f5f5f" stroke-width="0.7"/>
<text x="52.2" y="334.5" font-size="11.1" fill="#0a0a0a" stroke="#0a0a0a" stroke-width="0.12" textLength="77.0" lengthAdjust="spacingAndGlyphs">No data available</text>
<rect x="14.8" y="343.8" width="30.3" height="14.8" fill="#e6e6e6" stroke="#8c8c8c" stroke-width="0.7"/>
<text x="52.2" y="355.8" font-size="11.1" fill="#0a0a0a" stroke="#0a0a0a" stroke-width="0.12" textLength="55.7" lengthAdjust="spacingAndGlyphs">Not included</text>
<text x="15.2" y="375.8" font-size="12.4" fill="#0a0a0a" stroke="#0a0a0a" stroke-width="0.12" textLength="100.3" lengthAdjust="spacingAndGlyphs">Regions not visible</text>
<text x="15.2" y="390.3" font-size="12.4" fill="#0a0a0a" stroke="#0a0a0a" stroke-width="0.12" textLength="126.7" lengthAdjust="spacingAndGlyphs">in the main map extent</text>
<rect x="14.8" y="400.8" width="30.3" height="13.7" fill="#b83c12" stroke="#6a4a3a" stroke-width="0.7"/>
<text x="51.6" y="411.3" font-size="11.1" fill="#0a0a0a" stroke="#0a0a0a" stroke-width="0.12" textLength="29.0" lengthAdjust="spacingAndGlyphs">Azores</text>
<rect x="14.8" y="420.3" width="30.3" height="13.7" fill="#f2aa2e" stroke="#7a6a3a" stroke-width="0.7"/>
<rect x="14.8" y="440.6" width="30.3" height="13.7" fill="#b83c12" stroke="#6a4a3a" stroke-width="0.7"/>
<text x="51.6" y="451.8" font-size="11.1" fill="#0a0a0a" stroke="#0a0a0a" stroke-width="0.12" textLength="49.7" lengthAdjust="spacingAndGlyphs">La Reunion</text>
<rect x="14.8" y="460.6" width="30.3" height="13.7" fill="#b83c12" stroke="#6a4a3a" stroke-width="0.7"/>
<text x="51.6" y="471.6" font-size="11.1" fill="#0a0a0a" stroke="#0a0a0a" stroke-width="0.12" textLength="47.2" lengthAdjust="spacingAndGlyphs">Martinique</text>
<text x="51.4" y="424.4" font-size="8.0" fill="#0a0a0a" stroke="#0a0a0a" stroke-width="0.12" textLength="42.3" lengthAdjust="spacingAndGlyphs">Guadeloupe</text>
<text x="51.4" y="434.6" font-size="8.0" fill="#0a0a0a" stroke="#0a0a0a" stroke-width="0.12" textLength="58.8" lengthAdjust="spacingAndGlyphs">and Saint Martin</text>
<rect x="127.3" y="400.8" width="30.3" height="13.7" fill="#b83c12" stroke="#5a5a3a" stroke-width="0.7"/>
<text x="164.2" y="412.1" font-size="11.1" fill="#0a0a0a" stroke="#0a0a0a" stroke-width="0.12" textLength="65.9" lengthAdjust="spacingAndGlyphs">Canary Islands</text>
<rect x="127.3" y="420.3" width="30.3" height="13.7" fill="#b83c12" stroke="#5a5a3a" stroke-width="0.7"/>
<text x="164.2" y="430.8" font-size="11.1" fill="#0a0a0a" stroke="#0a0a0a" stroke-width="0.12" textLength="33.5" lengthAdjust="spacingAndGlyphs">Guyane</text>
<rect x="127.3" y="440.6" width="30.3" height="13.7" fill="#f2aa2e" stroke="#5a5a3a" stroke-width="0.7"/>
<text x="164.2" y="451.1" font-size="11.1" fill="#0a0a0a" stroke="#0a0a0a" stroke-width="0.12" textLength="35.0" lengthAdjust="spacingAndGlyphs">Madeira</text>
<rect x="127.3" y="460.6" width="30.3" height="13.7" fill="#65b22b" stroke="#5a5a3a" stroke-width="0.7"/>
<text x="164.2" y="470.8" font-size="11.1" fill="#0a0a0a" stroke="#0a0a0a" stroke-width="0.12" textLength="35.5" lengthAdjust="spacingAndGlyphs">Mayotte</text>
<text x="15.2" y="501.3" font-size="12.4" fill="#0a0a0a" stroke="#0a0a0a" stroke-width="0.12" textLength="109.7" lengthAdjust="spacingAndGlyphs">Countries not visible</text>
<text x="15.2" y="516" font-size="12.4" fill="#0a0a0a" stroke="#0a0a0a" stroke-width="0.12" textLength="126.7" lengthAdjust="spacingAndGlyphs">in the main map extent</text>
<rect x="14.8" y="525.6" width="30.3" height="14" fill="#b83c12" stroke="#6a4a3a" stroke-width="0.7"/>
<text x="51.9" y="536.2" font-size="11.1" fill="#0a0a0a" stroke="#0a0a0a" stroke-width="0.12" textLength="23.6" lengthAdjust="spacingAndGlyphs">Malta</text>
<rect x="127.3" y="527.3" width="30.3" height="14" fill="#8a8a8a" stroke="#5f5f5f" stroke-width="0.7"/>
<text x="164.2" y="536.7" font-size="11.1" fill="#0a0a0a" stroke="#0a0a0a" stroke-width="0.12" textLength="58.8" lengthAdjust="spacingAndGlyphs">Liechtenstein</text>
</g>
</svg>
</body></html>
